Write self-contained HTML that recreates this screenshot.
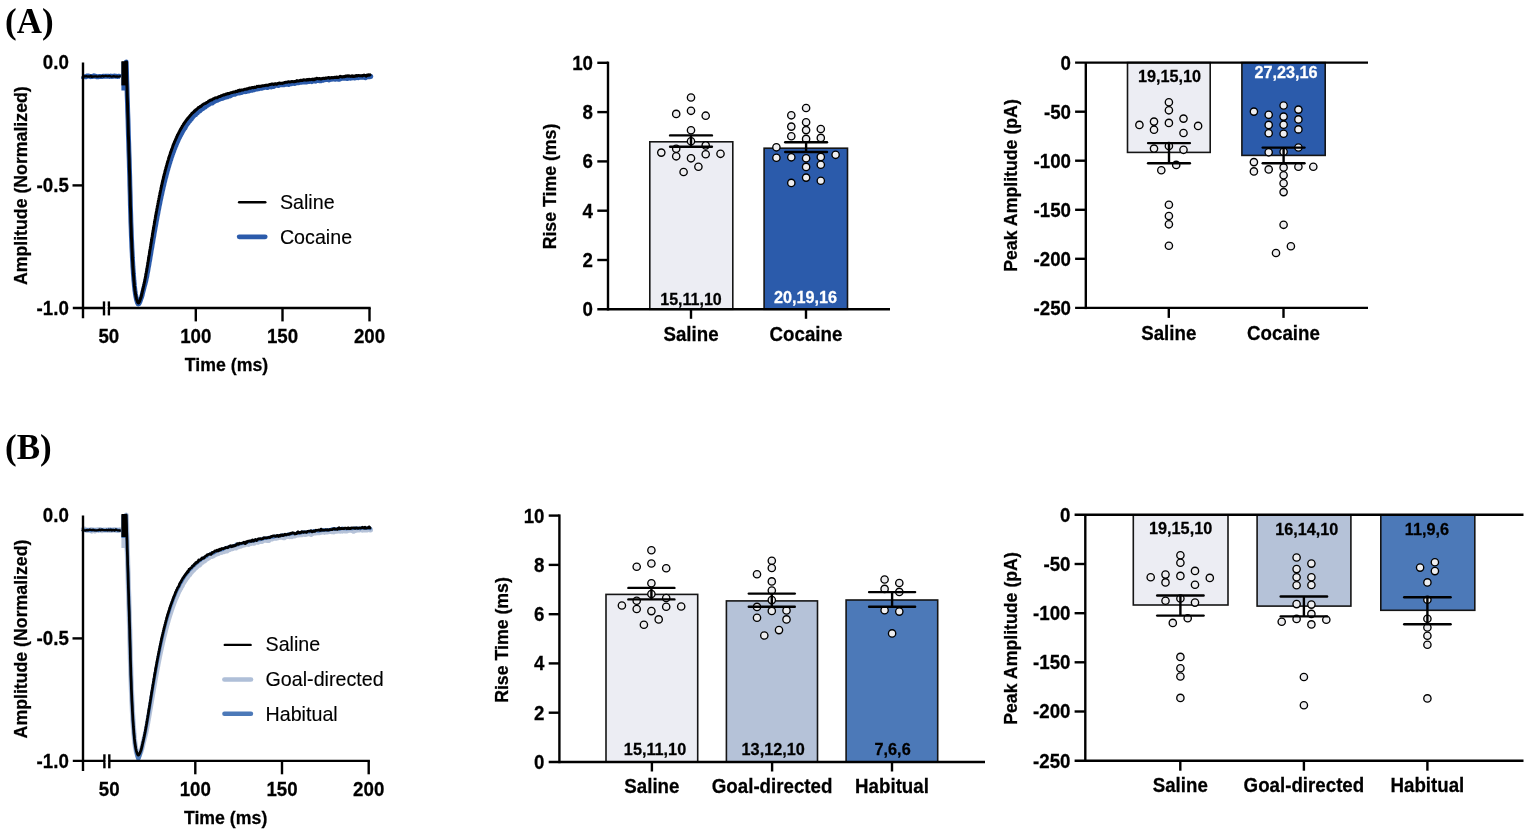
<!DOCTYPE html>
<html lang="en"><head><meta charset="utf-8"><title>Figure</title>
<style>html,body{margin:0;padding:0;background:#fff;}body{width:1535px;height:835px;overflow:hidden;}svg{display:block;}</style>
</head><body>
<svg width="1535" height="835" viewBox="0 0 1535 835" font-family='"Liberation Sans", Arial, Helvetica, sans-serif'>
<rect width="1535" height="835" fill="#fff"/>
<text transform="translate(5.0 32.8) scale(1 1)" font-size="35" font-weight="bold" text-anchor="start" fill="#000" style='font-family:"Liberation Serif", "Times New Roman", serif'>(A)</text>
<text transform="translate(5.0 459.0) scale(1 1)" font-size="35" font-weight="bold" text-anchor="start" fill="#000" style='font-family:"Liberation Serif", "Times New Roman", serif'>(B)</text>
<path d="M81.8 76.4 L82.8 76.7 L83.8 76.6 L84.8 76.6 L85.8 76.9 L86.8 76.0 L87.8 76.2 L88.8 76.0 L89.8 76.4 L90.8 76.7 L91.8 76.4 L92.8 76.5 L93.8 75.8 L94.8 76.4 L95.8 76.1 L96.8 76.9 L97.8 76.7 L98.8 76.7 L99.8 76.4 L100.8 76.6 L101.8 76.6 L102.8 76.3 L103.8 76.3 L104.8 76.4 L105.8 76.2 L106.8 76.2 L107.8 76.3 L108.8 76.2 L109.8 76.6 L110.8 75.9 L111.8 76.6 L112.8 76.2 L113.8 76.2 L114.8 76.0 L115.8 76.4 L116.8 76.3 L117.8 76.5 L118.8 76.2 L119.8 76.4 L120.8 76.9" fill="none" stroke="#2b5bab" stroke-width="4.9" stroke-linejoin="round" stroke-linecap="butt"/>
<rect x="121.4" y="62.0" width="5.6" height="28.5" fill="#2b5bab"/>
<path d="M126.2 62.0 L126.5 70.7 L126.7 79.2 L127.0 87.7 L127.2 95.9 L127.5 103.9 L127.7 111.8 L128.0 119.7 L128.2 127.5 L128.4 135.3 L128.7 143.2 L128.9 151.2 L129.2 159.3 L129.4 167.8 L129.7 176.4 L129.9 185.7 L130.2 195.8 L130.4 205.7 L130.7 214.3 L130.9 222.2 L131.2 229.5 L131.4 236.3 L131.7 242.3 L131.9 247.8 L132.2 253.1 L132.4 258.0 L132.7 262.6 L132.9 266.8 L133.2 270.6 L133.4 274.1 L133.7 277.3 L133.9 280.3 L134.2 283.2 L134.4 285.8 L134.7 288.2 L134.9 290.4 L135.2 292.2 L135.4 293.9 L135.7 295.4 L135.9 296.8 L136.2 298.1 L136.4 299.2 L136.7 300.2 L136.9 301.0 L137.2 301.8 L137.4 302.6 L137.7 303.2 L137.9 303.7 L138.2 304.0 L138.5 304.0 L138.8 303.8 L139.0 303.4 L139.3 302.9 L139.6 302.4 L139.9 301.7 L140.2 301.0 L140.5 300.2 L140.7 299.5 L141.0 298.7 L141.3 297.9 L141.6 297.0 L141.9 296.0 L142.2 295.0 L142.4 293.9 L142.7 292.7 L143.0 291.6 L143.3 290.4 L143.6 289.3 L143.9 288.2 L144.1 287.2 L144.4 286.1 L144.7 285.1 L145.0 284.1 L145.2 283.0 L145.5 282.0 L145.8 280.9 L146.0 279.9 L146.2 278.7 L146.5 277.5 L146.8 276.3 L147.0 274.9 L147.2 273.6 L147.5 272.2 L147.8 270.9 L148.0 269.5 L148.2 268.1 L148.5 266.6 L148.8 265.2 L149.0 263.8 L149.2 262.3 L149.5 260.9 L149.8 259.4 L150.0 257.9 L150.2 256.5 L150.5 255.0 L150.8 253.5 L151.0 252.0 L151.2 250.5 L151.5 249.1 L151.8 247.6 L152.0 246.1 L152.2 244.6 L152.5 243.2 L152.8 241.7 L153.0 240.2 L153.2 238.8 L153.5 237.3 L153.8 235.9 L154.0 234.4 L154.2 233.0 L154.5 231.5 L154.8 230.1 L155.0 228.7 L155.2 227.3 L155.5 225.9 L155.8 224.5 L156.0 223.1 L156.2 221.7 L156.5 220.3 L156.8 219.0 L157.0 217.6 L157.2 216.3 L157.5 214.9 L157.8 213.6 L158.0 212.3 L158.2 211.0 L158.5 209.7 L158.8 208.4 L159.0 207.1 L159.2 205.9 L159.5 204.6 L159.8 203.4 L160.0 202.1 L160.2 200.9 L160.5 199.7 L160.8 198.5 L161.0 197.3 L161.2 196.1 L161.5 195.0 L161.8 193.8 L162.0 192.7 L162.2 191.5 L162.5 190.4 L162.8 189.3 L163.0 188.2 L163.2 187.1 L163.5 186.1 L163.8 185.0 L164.0 184.0 L164.2 182.9 L164.5 181.9 L164.8 180.8 L165.0 179.8 L165.2 178.8 L165.5 177.8 L165.8 176.9 L166.0 175.9 L166.2 175.0 L166.5 174.0 L166.8 173.1 L167.0 172.1 L167.2 171.2 L167.5 170.3 L167.8 169.4 L168.0 168.5 L168.2 167.7 L168.5 166.8 L168.8 166.0 L169.0 165.2 L169.2 164.3 L169.5 163.4 L169.8 162.6 L170.0 161.8 L170.2 161.0 L170.5 160.2 L170.8 159.5 L171.0 158.6 L171.2 157.8 L171.5 157.1 L171.8 156.4 L172.0 155.8 L172.2 155.0 L172.5 154.2 L172.8 153.5 L173.0 152.9 L173.2 152.2 L173.5 151.6 L173.8 150.8 L174.0 150.2 L174.2 149.4 L174.5 148.7 L174.8 148.3 L175.0 147.6 L175.2 146.9 L175.5 146.3 L175.8 145.9 L176.0 145.3 L176.2 144.5 L176.5 143.9 L176.8 143.3 L177.0 142.7 L177.2 142.2 L177.5 141.7 L177.8 141.1 L178.0 140.6 L178.2 140.1 L178.5 139.4 L178.8 138.6 L179.0 138.2 L179.2 138.0 L179.5 137.5 L179.8 136.9 L180.0 136.4 L180.2 135.9 L180.5 135.5 L180.8 135.0 L181.0 134.4 L181.2 134.0 L181.5 133.8 L181.8 133.1 L182.0 132.7 L182.2 132.4 L182.5 131.7 L182.8 131.0 L183.0 130.7 L183.2 130.5 L183.5 130.0 L183.8 129.3 L184.0 129.1 L184.2 128.8 L184.5 128.2 L184.8 128.2 L185.0 128.0 L185.2 127.5 L185.5 126.8 L185.8 126.4 L186.0 125.8 L186.2 125.4 L186.5 125.2 L186.8 124.6 L187.0 124.2 L187.2 124.0 L187.5 123.9 L187.8 123.5 L188.0 123.2 L188.2 122.8 L188.5 122.2 L188.8 121.7 L189.0 121.5 L189.2 121.5 L189.5 121.2 L189.8 120.9 L190.0 120.4 L190.2 120.0 L190.5 119.7 L190.8 119.3 L191.0 119.3 L191.2 119.3 L191.5 118.7 L191.8 118.2 L192.0 118.0 L192.2 117.6 L192.5 117.4 L192.8 117.1 L193.0 116.7 L193.2 116.5 L193.5 116.2 L193.8 115.9 L194.0 115.5 L194.2 115.3 L194.5 115.2 L194.8 115.0 L195.0 114.9 L195.2 114.9 L195.5 114.8 L195.8 114.2 L196.0 114.0 L196.2 113.7 L196.5 113.6 L196.8 113.5 L197.0 112.9 L197.2 112.7 L197.5 112.8 L197.8 112.0 L198.0 111.5 L198.2 111.7 L198.5 111.3 L198.8 110.9 L199.0 110.9 L199.2 110.9 L199.5 111.0 L199.8 111.1 L200.0 110.8 L200.2 110.3 L200.5 110.2 L200.8 109.9 L200.8 109.6 L201.3 108.8 L201.8 108.5 L202.3 108.6 L202.8 108.7 L203.3 108.3 L203.8 107.8 L204.3 107.2 L204.8 107.0 L205.3 107.1 L205.8 106.4 L206.3 105.8 L206.8 105.4 L207.3 105.4 L207.8 105.3 L208.3 104.7 L208.8 104.5 L209.3 104.3 L209.8 103.8 L210.3 103.3 L210.8 102.8 L211.3 102.5 L211.8 102.5 L212.3 103.0 L212.8 102.3 L213.3 101.7 L213.8 101.9 L214.3 101.4 L214.8 101.1 L215.3 100.9 L215.8 100.8 L216.3 100.7 L216.8 100.3 L217.3 100.3 L217.8 100.0 L218.3 99.3 L218.8 99.1 L219.3 99.3 L219.8 99.2 L220.3 98.9 L220.8 98.6 L221.3 98.3 L221.8 98.5 L222.3 98.3 L222.8 98.3 L223.3 98.1 L223.8 97.4 L224.3 96.9 L224.8 97.1 L225.3 97.2 L225.8 97.0 L226.3 97.0 L226.8 96.9 L227.3 96.9 L227.8 96.3 L228.3 96.0 L228.8 96.1 L229.3 95.7 L229.8 95.6 L230.3 95.9 L230.8 95.6 L231.3 95.2 L231.8 95.0 L232.3 94.7 L232.8 94.5 L233.3 94.4 L233.8 94.3 L234.3 94.1 L234.8 94.0 L235.3 94.2 L235.8 93.8 L236.3 93.6 L236.8 93.3 L237.3 92.7 L237.8 92.9 L238.3 93.1 L238.8 93.1 L239.3 92.7 L239.8 92.4 L240.3 92.6 L240.8 92.7 L241.3 92.6 L241.8 92.3 L242.3 92.0 L242.8 91.8 L243.3 91.8 L243.8 91.8 L244.3 91.6 L244.8 91.2 L245.3 91.4 L245.8 91.7 L246.3 91.6 L246.8 91.2 L247.3 91.0 L247.8 91.0 L248.3 91.0 L248.8 91.0 L249.3 90.9 L249.8 90.3 L250.3 90.0 L250.8 89.9 L251.3 89.7 L251.8 90.0 L252.3 90.3 L252.8 89.7 L253.3 89.8 L253.8 89.9 L254.3 89.4 L254.8 89.3 L255.3 89.3 L255.8 89.0 L256.3 88.6 L256.8 88.7 L257.3 89.0 L257.8 88.4 L258.3 88.4 L258.8 88.8 L259.3 88.6 L259.8 88.4 L260.3 88.3 L260.8 88.1 L261.3 87.9 L261.8 88.2 L262.3 88.0 L262.8 87.7 L263.3 87.9 L263.8 87.6 L264.3 87.4 L264.8 87.2 L265.3 87.1 L265.8 87.2 L266.3 87.3 L266.8 87.1 L267.3 87.5 L267.8 87.5 L268.3 86.9 L268.8 86.8 L269.3 86.7 L269.8 86.9 L270.3 86.8 L270.8 86.7 L271.3 86.9 L271.8 86.4 L272.3 86.3 L272.8 86.3 L273.3 86.5 L273.8 86.5 L274.3 85.8 L274.8 85.4 L275.3 85.3 L275.8 85.4 L276.3 85.4 L276.8 85.2 L277.3 85.2 L277.8 85.3 L278.3 85.6 L278.8 85.3 L279.3 84.8 L279.8 84.9 L280.3 84.7 L280.8 84.5 L281.3 84.6 L281.8 84.8 L282.3 84.9 L282.8 84.6 L283.3 84.7 L283.8 84.8 L284.3 84.5 L284.8 84.5 L285.3 84.3 L285.8 84.3 L286.3 84.4 L286.8 84.2 L287.3 83.8 L287.8 84.1 L288.3 84.3 L288.8 84.5 L289.3 84.3 L289.8 83.8 L290.3 83.8 L290.8 83.6 L291.3 83.8 L291.8 83.5 L292.3 83.3 L292.8 83.4 L293.3 83.4 L293.8 83.4 L294.3 83.5 L294.8 83.5 L295.3 83.3 L295.8 83.0 L296.3 82.7 L296.8 82.6 L297.3 82.6 L297.8 82.8 L298.3 82.8 L298.8 82.4 L299.3 82.5 L299.8 82.5 L300.3 82.2 L300.8 82.3 L301.3 82.4 L301.8 82.0 L302.3 81.6 L302.8 82.0 L303.3 82.1 L303.8 81.9 L304.3 81.8 L304.8 82.1 L305.3 82.1 L305.8 81.9 L306.3 82.1 L306.8 81.8 L307.3 81.7 L307.8 81.7 L308.3 81.4 L308.8 81.2 L309.3 81.5 L309.8 81.5 L310.3 81.2 L310.8 81.0 L311.3 81.4 L311.8 81.7 L312.3 81.3 L312.8 81.0 L313.3 80.7 L313.8 80.8 L314.3 81.1 L314.8 80.7 L315.3 80.8 L315.8 81.2 L316.3 80.8 L316.8 80.5 L317.3 80.5 L317.8 80.6 L318.3 80.6 L318.8 80.2 L319.3 80.5 L319.8 80.8 L320.3 80.7 L320.8 80.8 L321.3 80.5 L321.8 80.3 L322.3 80.4 L322.8 80.4 L323.3 80.2 L323.8 79.9 L324.3 79.9 L324.8 79.8 L325.3 79.7 L325.8 79.4 L326.3 79.5 L326.8 79.6 L327.3 79.5 L327.8 79.6 L328.3 79.7 L328.8 80.0 L329.3 79.9 L329.8 79.3 L330.3 79.3 L330.8 79.4 L331.3 79.4 L331.8 79.3 L332.3 79.1 L332.8 79.1 L333.3 79.0 L333.8 78.8 L334.3 78.7 L334.8 79.0 L335.3 79.3 L335.8 79.2 L336.3 78.9 L336.8 79.0 L337.3 79.1 L337.8 79.2 L338.3 79.2 L338.8 78.9 L339.3 79.0 L339.8 79.2 L340.3 78.9 L340.8 78.6 L341.3 78.3 L341.8 78.2 L342.3 78.3 L342.8 78.3 L343.3 78.3 L343.8 78.3 L344.3 78.3 L344.8 78.4 L345.3 78.4 L345.8 78.2 L346.3 77.9 L346.8 78.2 L347.3 78.6 L347.8 78.3 L348.3 78.1 L348.8 77.9 L349.3 77.5 L349.8 77.7 L350.3 78.2 L350.8 78.0 L351.3 77.5 L351.8 78.0 L352.3 77.8 L352.8 77.5 L353.3 77.9 L353.8 77.7 L354.3 77.7 L354.8 78.1 L355.3 77.9 L355.8 77.3 L356.3 77.4 L356.8 77.3 L357.3 77.1 L357.8 77.5 L358.3 77.7 L358.8 77.1 L359.3 76.9 L359.8 77.3 L360.3 77.4 L360.8 77.1 L361.3 76.9 L361.8 77.2 L362.3 77.3 L362.8 77.3 L363.3 76.8 L363.8 77.1 L364.3 77.4 L364.8 77.3 L365.3 77.8 L365.8 77.4 L366.3 76.7 L366.8 76.8 L367.3 77.0 L367.8 76.7 L368.3 76.5 L368.8 76.9 L369.3 76.9 L369.8 76.4 L370.3 76.3 L370.8 76.4" fill="none" stroke="#2b5bab" stroke-width="4.9" stroke-linejoin="round" stroke-linecap="round"/>
<path d="M81.8 76.4 L82.8 76.8 L83.8 76.8 L84.8 76.2 L85.8 76.3 L86.8 76.2 L87.8 76.6 L88.8 76.4 L89.8 76.6 L90.8 75.8 L91.8 76.9 L92.8 76.4 L93.8 76.6 L94.8 76.4 L95.8 76.3 L96.8 76.5 L97.8 76.6 L98.8 76.3 L99.8 76.4 L100.8 76.6 L101.8 76.1 L102.8 75.9 L103.8 76.5 L104.8 76.2 L105.8 75.8 L106.8 76.2 L107.8 76.3 L108.8 76.0 L109.8 76.0 L110.8 76.4 L111.8 76.7 L112.8 76.3 L113.8 76.2 L114.8 76.5 L115.8 76.6 L116.8 76.3 L117.8 76.6 L118.8 76.7 L119.8 76.3 L120.8 76.2" fill="none" stroke="#000" stroke-width="2.3" stroke-linejoin="round" stroke-linecap="butt"/>
<rect x="121.4" y="61.2" width="6.6" height="24.2" fill="#000"/>
<path d="M126.2 62.0 L126.5 70.7 L126.7 79.2 L127.0 87.7 L127.2 95.9 L127.5 103.9 L127.7 111.8 L128.0 119.7 L128.2 127.5 L128.4 135.3 L128.7 143.2 L128.9 151.2 L129.2 159.3 L129.4 167.8 L129.7 176.4 L129.9 185.7 L130.2 195.8 L130.4 205.7 L130.7 214.3 L130.9 222.2 L131.2 229.5 L131.4 236.3 L131.7 242.3 L131.9 247.8 L132.2 253.0 L132.4 258.0 L132.7 262.6 L132.9 266.8 L133.2 270.6 L133.4 274.1 L133.7 277.3 L133.9 280.3 L134.2 283.1 L134.4 285.7 L134.7 288.1 L134.9 290.2 L135.2 292.0 L135.4 293.6 L135.7 295.0 L135.9 296.4 L136.2 297.6 L136.4 298.6 L136.7 299.5 L136.9 300.2 L137.2 301.0 L137.4 301.7 L137.7 302.3 L137.9 302.7 L138.2 303.0 L138.4 303.0 L138.7 302.8 L138.9 302.5 L139.2 302.1 L139.4 301.6 L139.7 301.0 L139.9 300.3 L140.2 299.7 L140.4 299.0 L140.7 298.3 L140.9 297.6 L141.2 296.7 L141.4 295.8 L141.7 294.8 L141.9 293.7 L142.2 292.6 L142.4 291.5 L142.7 290.4 L142.9 289.2 L143.2 288.1 L143.4 287.0 L143.7 285.8 L143.9 284.7 L144.2 283.5 L144.4 282.3 L144.7 281.0 L144.9 279.8 L145.2 278.5 L145.4 277.2 L145.7 275.8 L145.9 274.4 L146.2 273.0 L146.4 271.6 L146.7 270.2 L146.9 268.7 L147.2 267.2 L147.4 265.7 L147.7 264.2 L147.9 262.7 L148.2 261.2 L148.4 259.7 L148.7 258.1 L148.9 256.6 L149.2 255.0 L149.4 253.5 L149.7 251.9 L149.9 250.4 L150.2 248.8 L150.4 247.3 L150.7 245.7 L150.9 244.2 L151.2 242.6 L151.4 241.1 L151.7 239.6 L151.9 238.0 L152.2 236.5 L152.4 235.0 L152.7 233.4 L152.9 231.9 L153.2 230.4 L153.4 228.9 L153.7 227.4 L153.9 226.0 L154.2 224.5 L154.4 223.0 L154.7 221.6 L154.9 220.1 L155.2 218.7 L155.4 217.3 L155.7 215.9 L155.9 214.5 L156.2 213.1 L156.4 211.7 L156.7 210.3 L156.9 209.0 L157.2 207.6 L157.4 206.3 L157.7 205.0 L157.9 203.6 L158.2 202.3 L158.4 201.1 L158.7 199.8 L158.9 198.5 L159.2 197.3 L159.4 196.0 L159.7 194.8 L159.9 193.6 L160.2 192.4 L160.4 191.2 L160.7 190.0 L160.9 188.8 L161.2 187.7 L161.4 186.5 L161.7 185.4 L161.9 184.3 L162.2 183.2 L162.4 182.1 L162.7 181.0 L162.9 179.9 L163.2 178.9 L163.4 177.8 L163.7 176.8 L163.9 175.8 L164.2 174.7 L164.4 173.7 L164.7 172.7 L164.9 171.8 L165.2 170.8 L165.4 169.8 L165.7 168.9 L165.9 167.9 L166.2 167.1 L166.4 166.2 L166.7 165.2 L166.9 164.4 L167.2 163.5 L167.4 162.7 L167.7 161.8 L167.9 161.0 L168.2 160.1 L168.4 159.2 L168.7 158.4 L168.9 157.6 L169.2 156.8 L169.4 156.0 L169.7 155.2 L169.9 154.5 L170.2 153.7 L170.4 152.9 L170.7 152.2 L170.9 151.6 L171.2 150.9 L171.4 150.1 L171.7 149.3 L171.9 148.8 L172.2 148.2 L172.4 147.3 L172.7 146.5 L172.9 145.9 L173.2 145.2 L173.4 144.6 L173.7 144.0 L173.9 143.5 L174.2 142.9 L174.4 142.1 L174.7 141.4 L174.9 140.9 L175.2 140.4 L175.4 139.9 L175.7 139.3 L175.9 138.6 L176.2 138.2 L176.4 137.8 L176.7 137.1 L176.9 136.4 L177.2 135.9 L177.4 135.3 L177.7 134.8 L177.9 134.4 L178.2 133.9 L178.4 133.3 L178.7 132.9 L178.9 132.4 L179.2 131.8 L179.4 131.3 L179.7 130.9 L179.9 130.4 L180.2 129.9 L180.4 129.5 L180.7 129.1 L180.9 128.7 L181.2 128.2 L181.4 127.9 L181.7 127.4 L181.9 126.9 L182.2 126.5 L182.4 126.0 L182.7 125.6 L182.9 125.3 L183.2 124.9 L183.4 124.4 L183.7 124.1 L183.9 123.9 L184.2 123.4 L184.4 122.8 L184.7 122.5 L184.9 122.4 L185.2 121.8 L185.4 121.5 L185.7 121.3 L185.9 120.7 L186.2 120.4 L186.4 120.2 L186.7 119.9 L186.9 119.4 L187.2 119.3 L187.4 119.1 L187.7 118.3 L187.9 118.2 L188.2 118.0 L188.4 117.7 L188.7 117.4 L188.9 117.0 L189.2 116.8 L189.4 116.4 L189.7 116.2 L189.9 115.9 L190.2 115.4 L190.4 115.2 L190.7 115.1 L190.9 114.8 L191.2 114.4 L191.4 114.2 L191.7 113.8 L191.9 113.3 L192.2 113.3 L192.4 113.0 L192.7 112.8 L192.9 112.7 L193.2 112.6 L193.4 112.2 L193.7 111.8 L193.9 111.7 L194.2 111.2 L194.4 111.4 L194.7 111.4 L194.9 110.6 L195.2 110.6 L195.4 110.5 L195.7 109.9 L195.9 109.8 L196.2 110.0 L196.4 109.6 L196.7 109.2 L196.9 109.1 L197.2 108.8 L197.4 108.6 L197.7 108.6 L197.9 108.2 L198.2 107.7 L198.4 107.6 L198.7 107.5 L198.9 107.5 L199.2 107.5 L199.4 107.3 L199.7 107.1 L199.9 106.8 L200.0 106.6 L200.5 106.3 L201.0 106.4 L201.5 105.9 L202.0 105.2 L202.5 104.8 L203.0 104.5 L203.5 104.1 L204.0 103.9 L204.5 103.7 L205.0 103.6 L205.5 103.4 L206.0 102.9 L206.5 102.7 L207.0 102.4 L207.5 102.2 L208.0 101.8 L208.5 101.2 L209.0 101.0 L209.5 100.8 L210.0 100.4 L210.5 100.1 L211.0 99.9 L211.5 99.9 L212.0 99.9 L212.5 99.3 L213.0 98.9 L213.5 98.8 L214.0 98.7 L214.5 98.3 L215.0 98.0 L215.5 97.9 L216.0 97.8 L216.5 97.8 L217.0 97.9 L217.5 97.5 L218.0 97.2 L218.5 96.7 L219.0 96.6 L219.5 96.6 L220.0 96.4 L220.5 96.5 L221.0 95.8 L221.5 95.4 L222.0 95.5 L222.5 95.3 L223.0 95.1 L223.5 94.8 L224.0 94.9 L224.5 94.9 L225.0 94.7 L225.5 94.3 L226.0 94.0 L226.5 94.2 L227.0 94.1 L227.5 93.5 L228.0 93.5 L228.5 93.7 L229.0 93.6 L229.5 93.3 L230.0 93.1 L230.5 92.9 L231.0 92.7 L231.5 92.6 L232.0 92.5 L232.5 92.6 L233.0 92.2 L233.5 91.9 L234.0 91.9 L234.5 92.0 L235.0 92.0 L235.5 91.4 L236.0 91.3 L236.5 91.5 L237.0 91.6 L237.5 91.1 L238.0 90.5 L238.5 90.9 L239.0 90.6 L239.5 90.1 L240.0 90.3 L240.5 90.6 L241.0 90.2 L241.5 90.0 L242.0 90.0 L242.5 90.1 L243.0 90.0 L243.5 89.8 L244.0 89.5 L244.5 89.2 L245.0 89.2 L245.5 89.3 L246.0 89.3 L246.5 88.9 L247.0 88.8 L247.5 89.0 L248.0 88.7 L248.5 88.4 L249.0 88.3 L249.5 88.0 L250.0 87.9 L250.5 88.2 L251.0 87.9 L251.5 87.9 L252.0 87.7 L252.5 87.4 L253.0 87.4 L253.5 87.8 L254.0 87.5 L254.5 87.1 L255.0 87.5 L255.5 87.3 L256.0 87.3 L256.5 87.0 L257.0 86.3 L257.5 86.5 L258.0 86.6 L258.5 86.3 L259.0 86.2 L259.5 86.4 L260.0 86.6 L260.5 86.2 L261.0 86.1 L261.5 86.2 L262.0 85.9 L262.5 85.8 L263.0 85.7 L263.5 85.7 L264.0 85.8 L264.5 85.5 L265.0 85.5 L265.5 85.4 L266.0 85.2 L266.5 85.3 L267.0 85.4 L267.5 85.2 L268.0 85.1 L268.5 85.2 L269.0 84.8 L269.5 84.5 L270.0 84.6 L270.5 84.6 L271.0 84.3 L271.5 84.0 L272.0 84.0 L272.5 84.0 L273.0 84.2 L273.5 84.5 L274.0 84.4 L274.5 84.1 L275.0 83.8 L275.5 83.7 L276.0 83.9 L276.5 84.2 L277.0 84.1 L277.5 83.6 L278.0 83.4 L278.5 83.3 L279.0 83.1 L279.5 83.0 L280.0 83.1 L280.5 83.4 L281.0 83.3 L281.5 83.2 L282.0 83.4 L282.5 83.1 L283.0 83.0 L283.5 83.1 L284.0 82.6 L284.5 82.5 L285.0 82.5 L285.5 82.4 L286.0 82.2 L286.5 82.2 L287.0 82.3 L287.5 82.1 L288.0 81.9 L288.5 81.7 L289.0 81.7 L289.5 82.0 L290.0 82.0 L290.5 81.8 L291.0 81.8 L291.5 81.6 L292.0 81.4 L292.5 81.6 L293.0 81.7 L293.5 81.6 L294.0 81.8 L294.5 81.7 L295.0 81.4 L295.5 81.5 L296.0 81.3 L296.5 80.9 L297.0 80.6 L297.5 80.7 L298.0 81.1 L298.5 81.0 L299.0 80.8 L299.5 80.6 L300.0 80.7 L300.5 80.3 L301.0 80.2 L301.5 80.5 L302.0 80.2 L302.5 80.5 L303.0 80.4 L303.5 79.8 L304.0 79.8 L304.5 80.1 L305.0 80.1 L305.5 80.0 L306.0 80.2 L306.5 80.1 L307.0 79.7 L307.5 79.5 L308.0 80.0 L308.5 79.8 L309.0 79.3 L309.5 79.4 L310.0 79.7 L310.5 79.7 L311.0 79.6 L311.5 79.4 L312.0 79.3 L312.5 79.6 L313.0 79.1 L313.5 79.2 L314.0 79.8 L314.5 79.4 L315.0 78.9 L315.5 79.3 L316.0 79.0 L316.5 78.3 L317.0 78.3 L317.5 78.5 L318.0 78.6 L318.5 78.8 L319.0 78.9 L319.5 78.5 L320.0 78.5 L320.5 79.0 L321.0 79.1 L321.5 78.9 L322.0 78.6 L322.5 78.6 L323.0 78.3 L323.5 78.3 L324.0 78.4 L324.5 78.4 L325.0 78.4 L325.5 78.0 L326.0 77.9 L326.5 78.3 L327.0 78.0 L327.5 77.7 L328.0 77.7 L328.5 77.5 L329.0 77.7 L329.5 78.2 L330.0 78.1 L330.5 77.9 L331.0 77.7 L331.5 77.7 L332.0 77.5 L332.5 77.6 L333.0 77.8 L333.5 77.8 L334.0 77.5 L334.5 77.3 L335.0 77.3 L335.5 77.6 L336.0 77.6 L336.5 76.9 L337.0 76.9 L337.5 77.6 L338.0 77.6 L338.5 77.4 L339.0 77.2 L339.5 76.7 L340.0 76.3 L340.5 76.4 L341.0 76.7 L341.5 76.9 L342.0 77.0 L342.5 76.8 L343.0 76.9 L343.5 76.8 L344.0 76.5 L344.5 76.7 L345.0 76.6 L345.5 75.9 L346.0 75.9 L346.5 76.3 L347.0 76.0 L347.5 75.8 L348.0 76.3 L348.5 76.1 L349.0 75.8 L349.5 76.0 L350.0 76.1 L350.5 76.4 L351.0 76.5 L351.5 76.0 L352.0 75.7 L352.5 76.1 L353.0 76.5 L353.5 76.4 L354.0 76.1 L354.5 76.4 L355.0 76.3 L355.5 75.9 L356.0 75.6 L356.5 75.5 L357.0 76.1 L357.5 75.9 L358.0 75.5 L358.5 75.5 L359.0 75.5 L359.5 75.8 L360.0 75.8 L360.5 75.7 L361.0 75.8 L361.5 75.8 L362.0 75.9 L362.5 75.9 L363.0 75.5 L363.5 75.3 L364.0 75.1 L364.5 75.3 L365.0 75.4 L365.5 75.7 L366.0 76.1 L366.5 75.6 L367.0 75.1 L367.5 75.4 L368.0 75.1 L368.5 74.7 L369.0 75.2 L369.5 75.1 L370.0 74.8" fill="none" stroke="#000" stroke-width="3.0" stroke-linejoin="round" stroke-linecap="round"/>
<line x1="83.0" y1="62.5" x2="83.0" y2="318.2" stroke="#000" stroke-width="2.4" stroke-linecap="butt"/>
<line x1="72.8" y1="308.0" x2="370.7" y2="308.0" stroke="#000" stroke-width="2.4" stroke-linecap="butt"/>
<line x1="72.5" y1="185.4" x2="83.0" y2="185.4" stroke="#000" stroke-width="2.4" stroke-linecap="butt"/>
<line x1="195.8" y1="308.0" x2="195.8" y2="321.4" stroke="#000" stroke-width="2.4" stroke-linecap="butt"/>
<line x1="282.5" y1="308.0" x2="282.5" y2="321.4" stroke="#000" stroke-width="2.4" stroke-linecap="butt"/>
<line x1="369.5" y1="308.0" x2="369.5" y2="321.4" stroke="#000" stroke-width="2.4" stroke-linecap="butt"/>
<line x1="104.0" y1="301.4" x2="104.0" y2="315.4" stroke="#000" stroke-width="2.4" stroke-linecap="butt"/>
<line x1="108.9" y1="301.4" x2="108.9" y2="315.4" stroke="#000" stroke-width="2.4" stroke-linecap="butt"/>
<rect x="105.20" y="306.0" width="2.50" height="4" fill="#fff"/>
<text transform="translate(68.8 68.7) scale(0.985 1.035)" font-size="19" font-weight="bold" text-anchor="end" fill="#000" stroke="#000" stroke-width="0.25">0.0</text>
<text transform="translate(68.8 192.3) scale(0.985 1.035)" font-size="19" font-weight="bold" text-anchor="end" fill="#000" stroke="#000" stroke-width="0.25">-0.5</text>
<text transform="translate(68.8 315.4) scale(0.985 1.035)" font-size="19" font-weight="bold" text-anchor="end" fill="#000" stroke="#000" stroke-width="0.25">-1.0</text>
<text transform="translate(108.8 342.9) scale(0.985 1.035)" font-size="19" font-weight="bold" text-anchor="middle" fill="#000" stroke="#000" stroke-width="0.25">50</text>
<text transform="translate(195.8 342.9) scale(0.985 1.035)" font-size="19" font-weight="bold" text-anchor="middle" fill="#000" stroke="#000" stroke-width="0.25">100</text>
<text transform="translate(282.5 342.9) scale(0.985 1.035)" font-size="19" font-weight="bold" text-anchor="middle" fill="#000" stroke="#000" stroke-width="0.25">150</text>
<text transform="translate(369.5 342.9) scale(0.985 1.035)" font-size="19" font-weight="bold" text-anchor="middle" fill="#000" stroke="#000" stroke-width="0.25">200</text>
<text transform="translate(226.5 370.6) scale(0.985 1.035)" font-size="18" font-weight="bold" text-anchor="middle" fill="#000" stroke="#000" stroke-width="0.25">Time (ms)</text>
<text transform="translate(27.0 185.7) rotate(-90) scale(0.985 1.035)" font-size="18" font-weight="bold" text-anchor="middle" fill="#000" stroke="#000" stroke-width="0.25">Amplitude (Normalized)</text>
<line x1="239.2" y1="202.2" x2="265.2" y2="202.2" stroke="#000" stroke-width="2.6" stroke-linecap="round"/>
<text transform="translate(279.9 209.2) scale(1.0 1.035)" font-size="19.7" font-weight="normal" text-anchor="start" fill="#000" stroke="#000" stroke-width="0.12">Saline</text>
<line x1="239.2" y1="236.8" x2="265.2" y2="236.8" stroke="#2b5bab" stroke-width="4.8" stroke-linecap="round"/>
<text transform="translate(279.9 243.6) scale(1.0 1.035)" font-size="19.7" font-weight="normal" text-anchor="start" fill="#000" stroke="#000" stroke-width="0.12">Cocaine</text>
<path d="M81.8 530.3 L82.8 529.8 L83.8 529.6 L84.8 529.2 L85.8 530.0 L86.8 530.5 L87.8 530.1 L88.8 530.3 L89.8 530.4 L90.8 529.8 L91.8 530.9 L92.8 529.8 L93.8 530.2 L94.8 530.9 L95.8 530.1 L96.8 530.1 L97.8 529.9 L98.8 530.2 L99.8 529.5 L100.8 529.9 L101.8 530.6 L102.8 530.2 L103.8 530.0 L104.8 530.2 L105.8 530.2 L106.8 530.1 L107.8 530.3 L108.8 529.6 L109.8 530.3 L110.8 529.9 L111.8 530.3 L112.8 530.1 L113.8 529.8 L114.8 530.1 L115.8 529.8 L116.8 530.4 L117.8 530.1 L118.8 530.4 L119.8 529.8 L120.8 530.6" fill="none" stroke="#b5c2d8" stroke-width="5.2" stroke-linejoin="round" stroke-linecap="butt"/>
<rect x="121.4" y="516.0" width="4.6" height="32.0" fill="#b5c2d8"/>
<path d="M126.2 515.0 L126.5 523.7 L126.7 532.2 L127.0 540.7 L127.2 548.9 L127.5 556.9 L127.7 564.8 L128.0 572.7 L128.2 580.5 L128.4 588.3 L128.7 596.2 L128.9 604.2 L129.2 612.3 L129.4 620.8 L129.7 629.4 L129.9 638.7 L130.2 648.8 L130.4 658.7 L130.7 667.3 L130.9 675.2 L131.2 682.5 L131.4 689.3 L131.7 695.3 L131.9 700.8 L132.2 706.1 L132.4 711.0 L132.7 715.6 L132.9 719.8 L133.2 723.6 L133.4 727.1 L133.7 730.3 L133.9 733.3 L134.2 736.1 L134.4 738.8 L134.7 741.1 L134.9 743.2 L135.2 745.1 L135.4 746.7 L135.7 748.1 L135.9 749.5 L136.2 750.7 L136.4 751.8 L136.7 752.7 L136.9 753.5 L137.2 754.2 L137.4 755.0 L137.7 755.6 L137.9 756.0 L138.2 756.3 L138.5 756.3 L138.7 756.1 L139.0 755.8 L139.3 755.3 L139.5 754.8 L139.8 754.2 L140.1 753.5 L140.4 752.8 L140.6 752.1 L140.9 751.4 L141.2 750.7 L141.4 749.8 L141.7 748.9 L142.0 747.9 L142.3 746.8 L142.5 745.7 L142.8 744.5 L143.1 743.4 L143.3 742.3 L143.6 741.2 L143.9 740.2 L144.1 739.1 L144.4 738.1 L144.7 737.1 L144.9 736.1 L145.2 735.1 L145.4 734.1 L145.7 733.0 L145.9 731.9 L146.2 730.7 L146.4 729.5 L146.7 728.1 L146.9 726.8 L147.2 725.5 L147.4 724.1 L147.7 722.7 L147.9 721.3 L148.2 719.9 L148.4 718.5 L148.7 717.0 L148.9 715.6 L149.2 714.2 L149.4 712.7 L149.7 711.2 L149.9 709.8 L150.2 708.3 L150.4 706.8 L150.7 705.4 L150.9 703.9 L151.2 702.4 L151.4 701.0 L151.7 699.5 L151.9 698.0 L152.2 696.5 L152.4 695.1 L152.7 693.6 L152.9 692.2 L153.2 690.7 L153.4 689.3 L153.7 687.8 L153.9 686.4 L154.2 685.0 L154.4 683.5 L154.7 682.1 L154.9 680.7 L155.2 679.3 L155.4 677.9 L155.7 676.5 L155.9 675.2 L156.2 673.8 L156.4 672.4 L156.7 671.1 L156.9 669.7 L157.2 668.4 L157.4 667.1 L157.7 665.8 L157.9 664.5 L158.2 663.2 L158.4 661.9 L158.7 660.6 L158.9 659.4 L159.2 658.1 L159.4 656.9 L159.7 655.7 L159.9 654.4 L160.2 653.2 L160.4 652.0 L160.7 650.8 L160.9 649.7 L161.2 648.5 L161.4 647.4 L161.7 646.2 L161.9 645.1 L162.2 644.0 L162.4 642.9 L162.7 641.8 L162.9 640.7 L163.2 639.6 L163.4 638.5 L163.7 637.5 L163.9 636.5 L164.2 635.4 L164.4 634.4 L164.7 633.4 L164.9 632.4 L165.2 631.4 L165.4 630.4 L165.7 629.5 L165.9 628.5 L166.2 627.5 L166.4 626.6 L166.7 625.6 L166.9 624.7 L167.2 623.9 L167.4 623.0 L167.7 622.2 L167.9 621.3 L168.2 620.2 L168.4 619.3 L168.7 618.7 L168.9 617.9 L169.2 617.0 L169.4 616.1 L169.7 615.4 L169.9 614.7 L170.2 613.9 L170.4 613.1 L170.7 612.3 L170.9 611.6 L171.2 610.7 L171.4 609.9 L171.7 609.3 L171.9 608.5 L172.2 607.8 L172.4 607.2 L172.7 606.2 L172.9 605.6 L173.2 605.2 L173.4 604.4 L173.7 603.6 L173.9 603.0 L174.2 602.3 L174.4 601.6 L174.7 601.1 L174.9 600.4 L175.2 599.7 L175.4 599.1 L175.7 598.7 L175.9 598.3 L176.2 597.6 L176.4 596.9 L176.7 596.2 L176.9 595.7 L177.2 595.4 L177.4 594.6 L177.7 594.0 L177.9 593.4 L178.2 592.7 L178.4 592.4 L178.7 591.8 L178.9 591.1 L179.2 590.7 L179.4 590.5 L179.7 589.9 L179.9 589.5 L180.2 589.0 L180.4 588.6 L180.7 588.2 L180.9 587.5 L181.2 587.1 L181.4 586.7 L181.7 586.4 L181.9 586.2 L182.2 585.6 L182.4 584.8 L182.7 584.1 L182.9 583.6 L183.2 583.3 L183.4 583.0 L183.7 582.6 L183.9 582.2 L184.2 581.9 L184.4 581.3 L184.7 580.6 L184.9 580.6 L185.2 580.5 L185.4 579.9 L185.7 579.6 L185.9 579.2 L186.2 578.6 L186.4 578.0 L186.7 577.8 L186.9 577.8 L187.2 577.5 L187.4 577.2 L187.7 576.7 L187.9 576.3 L188.2 576.2 L188.4 575.8 L188.7 575.2 L188.9 574.9 L189.2 574.8 L189.4 574.6 L189.7 574.5 L189.9 574.0 L190.2 573.6 L190.4 573.2 L190.7 572.8 L190.9 572.6 L191.2 572.5 L191.4 572.3 L191.7 571.6 L191.9 571.4 L192.2 571.2 L192.4 570.8 L192.7 570.4 L192.9 570.0 L193.2 570.3 L193.4 570.3 L193.7 569.7 L193.9 569.1 L194.2 568.5 L194.4 568.4 L194.7 568.4 L194.9 568.3 L195.2 567.9 L195.4 567.6 L195.7 567.9 L195.9 567.3 L196.2 567.0 L196.4 566.7 L196.7 566.4 L196.9 566.5 L197.2 566.5 L197.4 566.1 L197.7 565.5 L197.9 565.7 L198.2 565.2 L198.4 564.7 L198.7 564.6 L198.9 564.2 L199.2 564.4 L199.4 564.5 L199.7 564.8 L199.9 564.7 L200.2 564.2 L200.4 563.6 L200.5 563.2 L201.0 562.9 L201.5 562.0 L202.0 562.0 L202.5 562.1 L203.0 561.0 L203.5 560.7 L204.0 560.9 L204.5 561.0 L205.0 560.3 L205.5 559.8 L206.0 559.6 L206.5 558.9 L207.0 558.7 L207.5 558.6 L208.0 557.9 L208.5 557.9 L209.0 557.6 L209.5 557.1 L210.0 556.9 L210.5 556.4 L211.0 556.2 L211.5 556.4 L212.0 556.0 L212.5 555.5 L213.0 555.9 L213.5 555.6 L214.0 554.9 L214.5 555.0 L215.0 554.7 L215.5 554.4 L216.0 554.2 L216.5 554.0 L217.0 554.0 L217.5 553.3 L218.0 553.5 L218.5 553.5 L219.0 552.8 L219.5 552.4 L220.0 552.2 L220.5 552.2 L221.0 552.2 L221.5 552.3 L222.0 551.7 L222.5 551.2 L223.0 551.6 L223.5 551.6 L224.0 551.2 L224.5 551.4 L225.0 551.2 L225.5 550.7 L226.0 550.5 L226.5 550.6 L227.0 550.8 L227.5 550.0 L228.0 549.7 L228.5 549.4 L229.0 549.4 L229.5 549.7 L230.0 549.2 L230.5 548.8 L231.0 548.3 L231.5 548.4 L232.0 548.7 L232.5 548.3 L233.0 548.3 L233.5 548.1 L234.0 547.6 L234.5 547.4 L235.0 547.1 L235.5 547.7 L236.0 547.9 L236.5 547.0 L237.0 547.1 L237.5 546.3 L238.0 545.9 L238.5 546.6 L239.0 546.2 L239.5 546.1 L240.0 545.7 L240.5 545.5 L241.0 546.1 L241.5 545.4 L242.0 544.7 L242.5 545.0 L243.0 545.2 L243.5 545.0 L244.0 544.9 L244.5 545.0 L245.0 544.5 L245.5 544.2 L246.0 544.1 L246.5 543.5 L247.0 543.1 L247.5 543.7 L248.0 544.2 L248.5 544.3 L249.0 543.8 L249.5 543.1 L250.0 543.5 L250.5 543.4 L251.0 543.3 L251.5 543.3 L252.0 542.9 L252.5 542.1 L253.0 541.9 L253.5 542.8 L254.0 543.2 L254.5 543.0 L255.0 542.5 L255.5 542.0 L256.0 541.8 L256.5 541.9 L257.0 542.0 L257.5 541.9 L258.0 542.2 L258.5 541.8 L259.0 541.4 L259.5 541.2 L260.0 541.2 L260.5 541.3 L261.0 540.9 L261.5 540.9 L262.0 541.3 L262.5 541.1 L263.0 540.5 L263.5 540.1 L264.0 540.2 L264.5 540.2 L265.0 539.9 L265.5 540.0 L266.0 540.2 L266.5 539.9 L267.0 539.8 L267.5 540.3 L268.0 539.7 L268.5 539.5 L269.0 540.3 L269.5 539.7 L270.0 539.3 L270.5 539.0 L271.0 538.8 L271.5 539.0 L272.0 538.9 L272.5 538.6 L273.0 538.3 L273.5 538.3 L274.0 538.2 L274.5 538.1 L275.0 538.1 L275.5 537.9 L276.0 537.8 L276.5 538.1 L277.0 537.5 L277.5 537.3 L278.0 537.6 L278.5 537.2 L279.0 537.0 L279.5 537.0 L280.0 537.0 L280.5 537.2 L281.0 537.0 L281.5 537.1 L282.0 537.1 L282.5 537.0 L283.0 537.4 L283.5 536.8 L284.0 536.7 L284.5 537.5 L285.0 537.0 L285.5 536.6 L286.0 536.6 L286.5 536.4 L287.0 536.3 L287.5 536.1 L288.0 536.3 L288.5 536.5 L289.0 536.3 L289.5 536.4 L290.0 536.6 L290.5 536.3 L291.0 535.8 L291.5 536.0 L292.0 536.5 L292.5 535.4 L293.0 534.7 L293.5 535.1 L294.0 535.5 L294.5 535.9 L295.0 535.5 L295.5 535.2 L296.0 535.4 L296.5 534.9 L297.0 534.8 L297.5 535.0 L298.0 534.9 L298.5 534.9 L299.0 534.5 L299.5 534.2 L300.0 534.4 L300.5 534.6 L301.0 534.5 L301.5 534.7 L302.0 534.6 L302.5 533.9 L303.0 533.9 L303.5 534.1 L304.0 534.1 L304.5 534.3 L305.0 534.4 L305.5 534.4 L306.0 534.3 L306.5 534.0 L307.0 534.0 L307.5 533.9 L308.0 533.7 L308.5 533.4 L309.0 533.3 L309.5 533.4 L310.0 533.4 L310.5 533.9 L311.0 534.4 L311.5 534.1 L312.0 533.5 L312.5 533.4 L313.0 533.4 L313.5 532.9 L314.0 532.8 L314.5 532.9 L315.0 532.7 L315.5 533.0 L316.0 533.0 L316.5 532.5 L317.0 532.7 L317.5 532.6 L318.0 532.1 L318.5 532.0 L319.0 532.4 L319.5 532.6 L320.0 532.5 L320.5 532.2 L321.0 531.9 L321.5 532.2 L322.0 532.0 L322.5 531.7 L323.0 531.6 L323.5 531.5 L324.0 531.8 L324.5 532.2 L325.0 531.4 L325.5 531.4 L326.0 531.9 L326.5 531.5 L327.0 531.9 L327.5 531.6 L328.0 531.3 L328.5 531.6 L329.0 531.5 L329.5 531.2 L330.0 531.2 L330.5 531.4 L331.0 530.9 L331.5 531.2 L332.0 531.6 L332.5 530.6 L333.0 530.3 L333.5 531.2 L334.0 531.8 L334.5 531.4 L335.0 530.5 L335.5 530.4 L336.0 531.0 L336.5 531.1 L337.0 530.7 L337.5 530.4 L338.0 530.7 L338.5 530.8 L339.0 530.7 L339.5 530.8 L340.0 531.1 L340.5 531.0 L341.0 530.7 L341.5 530.1 L342.0 530.3 L342.5 531.0 L343.0 530.7 L343.5 529.9 L344.0 529.7 L344.5 530.3 L345.0 530.9 L345.5 531.0 L346.0 530.7 L346.5 530.7 L347.0 530.8 L347.5 530.3 L348.0 529.7 L348.5 529.7 L349.0 529.8 L349.5 530.0 L350.0 530.1 L350.5 529.9 L351.0 529.9 L351.5 529.9 L352.0 530.4 L352.5 530.5 L353.0 530.6 L353.5 531.1 L354.0 530.1 L354.5 529.9 L355.0 530.4 L355.5 529.7 L356.0 529.7 L356.5 530.1 L357.0 530.0 L357.5 529.8 L358.0 529.6 L358.5 529.9 L359.0 529.9 L359.5 529.6 L360.0 529.6 L360.5 529.5 L361.0 529.6 L361.5 529.2 L362.0 529.5 L362.5 530.1 L363.0 529.8 L363.5 530.0 L364.0 529.6 L364.5 529.9 L365.0 529.9 L365.5 529.5 L366.0 529.8 L366.5 530.0 L367.0 529.9 L367.5 529.2 L368.0 529.3 L368.5 529.0 L369.0 528.9 L369.5 529.4 L370.0 529.8 L370.5 529.8" fill="none" stroke="#b5c2d8" stroke-width="5.2" stroke-linejoin="round" stroke-linecap="round"/>
<path d="M81.8 529.7 L82.8 529.8 L83.8 530.2 L84.8 529.9 L85.8 530.3 L86.8 530.3 L87.8 529.7 L88.8 530.4 L89.8 529.9 L90.8 530.7 L91.8 530.3 L92.8 529.9 L93.8 530.2 L94.8 530.2 L95.8 530.2 L96.8 530.5 L97.8 530.3 L98.8 530.6 L99.8 530.3 L100.8 530.0 L101.8 529.6 L102.8 529.6 L103.8 530.2 L104.8 530.3 L105.8 530.5 L106.8 529.9 L107.8 530.1 L108.8 529.9 L109.8 530.0 L110.8 529.4 L111.8 530.3 L112.8 529.9 L113.8 530.1 L114.8 530.2 L115.8 530.2 L116.8 529.7 L117.8 530.6 L118.8 530.3 L119.8 530.3 L120.8 529.9" fill="none" stroke="#4c79b8" stroke-width="3.2" stroke-linejoin="round" stroke-linecap="butt"/>
<rect x="121.4" y="515.0" width="5.0" height="23.0" fill="#4c79b8"/>
<path d="M126.2 515.0 L126.5 523.7 L126.7 532.2 L127.0 540.7 L127.2 548.9 L127.5 556.9 L127.7 564.8 L128.0 572.7 L128.2 580.5 L128.4 588.3 L128.7 596.2 L128.9 604.2 L129.2 612.3 L129.4 620.8 L129.7 629.4 L129.9 638.7 L130.2 648.8 L130.4 658.7 L130.7 667.3 L130.9 675.2 L131.2 682.5 L131.4 689.3 L131.7 695.3 L131.9 700.8 L132.2 706.1 L132.4 711.0 L132.7 715.6 L132.9 719.8 L133.2 723.7 L133.4 727.1 L133.7 730.4 L133.9 733.5 L134.2 736.4 L134.4 739.1 L134.7 741.6 L134.9 743.8 L135.2 745.8 L135.4 747.6 L135.7 749.3 L135.9 750.9 L136.2 752.3 L136.4 753.7 L136.7 754.9 L136.9 755.9 L137.2 757.0 L137.4 757.9 L137.7 758.7 L137.9 759.3 L138.2 759.6 L138.5 759.6 L138.7 759.3 L139.0 758.9 L139.2 758.2 L139.5 757.5 L139.7 756.6 L140.0 755.7 L140.3 754.7 L140.5 753.7 L140.8 752.7 L141.0 751.7 L141.3 750.7 L141.6 749.5 L141.8 748.4 L142.1 747.2 L142.3 745.9 L142.6 744.7 L142.8 743.5 L143.1 742.3 L143.4 741.2 L143.6 740.1 L143.9 738.9 L144.1 737.8 L144.4 736.6 L144.6 735.5 L144.9 734.3 L145.1 733.1 L145.4 731.8 L145.6 730.5 L145.9 729.2 L146.1 727.9 L146.4 726.5 L146.6 725.1 L146.9 723.6 L147.1 722.2 L147.4 720.7 L147.6 719.3 L147.9 717.8 L148.1 716.3 L148.4 714.8 L148.6 713.3 L148.9 711.8 L149.1 710.2 L149.4 708.7 L149.6 707.2 L149.9 705.6 L150.1 704.1 L150.4 702.6 L150.6 701.0 L150.9 699.5 L151.1 698.0 L151.4 696.4 L151.6 694.9 L151.9 693.4 L152.1 691.8 L152.4 690.3 L152.6 688.8 L152.9 687.3 L153.1 685.8 L153.4 684.3 L153.6 682.8 L153.9 681.4 L154.1 679.9 L154.4 678.4 L154.6 677.0 L154.9 675.5 L155.1 674.1 L155.4 672.7 L155.6 671.2 L155.9 669.8 L156.1 668.4 L156.4 667.1 L156.6 665.7 L156.9 664.3 L157.1 663.0 L157.4 661.6 L157.6 660.3 L157.9 659.0 L158.1 657.7 L158.4 656.4 L158.6 655.1 L158.9 653.8 L159.1 652.5 L159.4 651.3 L159.6 650.1 L159.9 648.8 L160.1 647.6 L160.4 646.4 L160.6 645.2 L160.9 644.0 L161.1 642.9 L161.4 641.7 L161.6 640.6 L161.9 639.5 L162.1 638.4 L162.4 637.2 L162.6 636.1 L162.9 635.1 L163.1 634.0 L163.4 632.9 L163.6 631.9 L163.9 630.9 L164.1 629.8 L164.4 628.7 L164.6 627.8 L164.9 626.8 L165.1 625.8 L165.4 624.8 L165.6 623.9 L165.9 622.9 L166.1 622.0 L166.4 621.1 L166.6 620.2 L166.9 619.3 L167.1 618.4 L167.4 617.4 L167.6 616.6 L167.9 615.7 L168.1 614.9 L168.4 614.0 L168.6 613.2 L168.9 612.5 L169.1 611.6 L169.4 610.8 L169.6 610.1 L169.9 609.2 L170.1 608.3 L170.4 607.6 L170.6 606.9 L170.9 606.2 L171.1 605.4 L171.4 604.7 L171.6 604.1 L171.9 603.5 L172.1 602.7 L172.4 601.8 L172.6 601.3 L172.9 600.7 L173.1 599.8 L173.4 599.2 L173.6 598.6 L173.9 598.0 L174.1 597.4 L174.4 596.7 L174.6 596.0 L174.9 595.5 L175.1 595.0 L175.4 594.4 L175.6 593.6 L175.9 592.9 L176.1 592.5 L176.4 592.0 L176.6 591.2 L176.9 590.6 L177.1 590.2 L177.4 589.8 L177.6 589.2 L177.9 588.7 L178.1 588.3 L178.4 587.7 L178.6 587.1 L178.9 586.8 L179.1 586.5 L179.4 585.9 L179.6 585.3 L179.9 584.8 L180.1 584.3 L180.4 583.8 L180.6 583.2 L180.9 582.8 L181.1 582.4 L181.4 582.3 L181.6 581.8 L181.9 581.2 L182.1 581.0 L182.4 580.4 L182.6 580.0 L182.9 579.4 L183.1 578.9 L183.4 578.8 L183.6 578.1 L183.9 577.5 L184.1 577.5 L184.4 577.2 L184.6 576.6 L184.9 576.2 L185.1 575.9 L185.4 575.7 L185.6 575.4 L185.9 575.0 L186.1 574.5 L186.4 574.2 L186.6 574.1 L186.9 573.8 L187.1 573.4 L187.4 573.0 L187.6 572.4 L187.9 572.1 L188.1 572.0 L188.4 571.8 L188.6 571.3 L188.9 570.7 L189.1 570.6 L189.4 570.4 L189.6 570.1 L189.9 569.8 L190.1 569.6 L190.4 569.4 L190.6 569.2 L190.9 569.0 L191.1 568.8 L191.4 568.5 L191.6 568.0 L191.9 567.6 L192.1 567.5 L192.4 567.2 L192.6 566.9 L192.9 566.9 L193.1 566.4 L193.4 565.8 L193.6 565.8 L193.9 565.8 L194.1 565.5 L194.4 565.1 L194.6 565.0 L194.9 565.1 L195.1 564.6 L195.4 564.2 L195.6 564.0 L195.9 563.8 L196.1 563.5 L196.4 563.2 L196.6 563.2 L196.9 563.2 L197.1 562.8 L197.4 562.6 L197.6 562.0 L197.9 561.8 L198.1 562.0 L198.4 561.6 L198.6 561.5 L198.9 561.2 L199.1 561.1 L199.4 561.0 L199.6 560.5 L199.9 560.3 L200.1 560.3 L200.2 560.5 L200.7 560.0 L201.2 559.3 L201.7 559.2 L202.2 559.0 L202.7 558.6 L203.2 558.5 L203.7 557.8 L204.2 557.4 L204.7 557.3 L205.2 557.3 L205.7 556.9 L206.2 556.6 L206.7 556.7 L207.2 556.2 L207.7 555.4 L208.2 555.0 L208.7 554.6 L209.2 554.5 L209.7 554.3 L210.2 553.9 L210.7 553.9 L211.2 553.4 L211.7 552.9 L212.2 553.5 L212.7 553.6 L213.2 553.1 L213.7 552.8 L214.2 552.8 L214.7 552.6 L215.2 552.1 L215.7 551.6 L216.2 551.3 L216.7 551.2 L217.2 550.9 L217.7 550.7 L218.2 550.6 L218.7 550.5 L219.2 550.5 L219.7 550.1 L220.2 549.8 L220.7 550.1 L221.2 550.0 L221.7 549.7 L222.2 549.7 L222.7 549.6 L223.2 549.3 L223.7 548.7 L224.2 548.3 L224.7 548.3 L225.2 548.0 L225.7 547.8 L226.2 547.7 L226.7 547.3 L227.2 547.4 L227.7 547.6 L228.2 547.2 L228.7 546.9 L229.2 546.8 L229.7 546.8 L230.2 546.6 L230.7 546.6 L231.2 546.4 L231.7 546.4 L232.2 546.4 L232.7 546.2 L233.2 545.9 L233.7 545.6 L234.2 545.6 L234.7 545.5 L235.2 545.3 L235.7 544.7 L236.2 544.1 L236.7 544.5 L237.2 544.9 L237.7 544.9 L238.2 544.8 L238.7 544.5 L239.2 544.2 L239.7 543.8 L240.2 543.8 L240.7 543.8 L241.2 543.6 L241.7 543.7 L242.2 543.5 L242.7 543.5 L243.2 543.2 L243.7 542.9 L244.2 542.7 L244.7 542.5 L245.2 542.9 L245.7 542.7 L246.2 542.5 L246.7 542.6 L247.2 542.4 L247.7 542.3 L248.2 541.9 L248.7 541.7 L249.2 542.0 L249.7 541.7 L250.2 541.3 L250.7 541.2 L251.2 541.1 L251.7 541.0 L252.2 541.1 L252.7 541.1 L253.2 540.4 L253.7 540.7 L254.2 541.0 L254.7 540.7 L255.2 540.5 L255.7 540.2 L256.2 540.0 L256.7 540.1 L257.2 540.2 L257.7 540.1 L258.2 539.9 L258.7 539.5 L259.2 539.3 L259.7 539.5 L260.2 539.7 L260.7 539.3 L261.2 538.9 L261.7 539.1 L262.2 539.2 L262.7 539.0 L263.2 538.5 L263.7 538.2 L264.2 538.3 L264.7 538.3 L265.2 538.0 L265.7 538.1 L266.2 538.3 L266.7 538.1 L267.2 537.7 L267.7 537.6 L268.2 537.9 L268.7 537.5 L269.2 537.3 L269.7 537.6 L270.2 537.3 L270.7 537.2 L271.2 537.2 L271.7 537.2 L272.2 537.2 L272.7 537.0 L273.2 537.1 L273.7 537.2 L274.2 536.9 L274.7 536.5 L275.2 536.1 L275.7 536.3 L276.2 536.5 L276.7 536.3 L277.2 536.2 L277.7 535.9 L278.2 535.7 L278.7 535.6 L279.2 535.6 L279.7 535.6 L280.2 535.3 L280.7 535.4 L281.2 535.7 L281.7 535.4 L282.2 534.9 L282.7 535.2 L283.2 535.2 L283.7 535.2 L284.2 535.2 L284.7 534.9 L285.2 534.8 L285.7 535.0 L286.2 535.0 L286.7 534.7 L287.2 534.6 L287.7 534.2 L288.2 533.9 L288.7 534.4 L289.2 534.6 L289.7 534.3 L290.2 534.2 L290.7 534.0 L291.2 533.9 L291.7 533.7 L292.2 533.7 L292.7 533.7 L293.2 533.5 L293.7 533.6 L294.2 533.5 L294.7 533.5 L295.2 533.6 L295.7 533.5 L296.2 533.6 L296.7 533.2 L297.2 532.6 L297.7 532.9 L298.2 533.3 L298.7 533.5 L299.2 533.4 L299.7 533.1 L300.2 532.7 L300.7 532.7 L301.2 532.9 L301.7 532.5 L302.2 532.2 L302.7 532.3 L303.2 532.4 L303.7 531.9 L304.2 531.8 L304.7 532.3 L305.2 532.2 L305.7 532.1 L306.2 532.2 L306.7 531.9 L307.2 531.8 L307.7 531.9 L308.2 531.6 L308.7 531.6 L309.2 532.0 L309.7 531.6 L310.2 531.0 L310.7 531.0 L311.2 531.5 L311.7 531.7 L312.2 531.3 L312.7 531.2 L313.2 531.0 L313.7 530.7 L314.2 530.8 L314.7 531.2 L315.2 530.7 L315.7 530.5 L316.2 530.6 L316.7 530.8 L317.2 530.9 L317.7 531.0 L318.2 531.2 L318.7 531.1 L319.2 531.1 L319.7 530.6 L320.2 530.2 L320.7 530.6 L321.2 530.7 L321.7 530.4 L322.2 530.0 L322.7 529.6 L323.2 530.0 L323.7 530.4 L324.2 530.1 L324.7 530.0 L325.2 529.7 L325.7 529.7 L326.2 530.2 L326.7 530.4 L327.2 530.1 L327.7 529.8 L328.2 529.5 L328.7 529.7 L329.2 530.2 L329.7 529.8 L330.2 529.5 L330.7 529.6 L331.2 529.4 L331.7 528.9 L332.2 528.9 L332.7 529.4 L333.2 529.1 L333.7 528.8 L334.2 528.5 L334.7 528.8 L335.2 529.4 L335.7 529.2 L336.2 529.0 L336.7 528.8 L337.2 528.9 L337.7 528.9 L338.2 528.8 L338.7 528.9 L339.2 528.9 L339.7 529.2 L340.2 528.9 L340.7 528.6 L341.2 528.7 L341.7 528.5 L342.2 528.1 L342.7 528.4 L343.2 528.7 L343.7 528.4 L344.2 528.6 L344.7 528.6 L345.2 528.5 L345.7 528.6 L346.2 528.7 L346.7 528.9 L347.2 528.6 L347.7 528.6 L348.2 528.7 L348.7 528.5 L349.2 528.5 L349.7 528.6 L350.2 528.4 L350.7 528.3 L351.2 528.7 L351.7 528.6 L352.2 528.7 L352.7 528.6 L353.2 528.3 L353.7 528.3 L354.2 528.1 L354.7 528.0 L355.2 528.0 L355.7 528.2 L356.2 528.1 L356.7 528.3 L357.2 528.6 L357.7 528.2 L358.2 528.1 L358.7 528.4 L359.2 528.2 L359.7 528.6 L360.2 528.8 L360.7 528.4 L361.2 528.2 L361.7 527.7 L362.2 527.8 L362.7 528.1 L363.2 528.0 L363.7 528.1 L364.2 528.2 L364.7 528.5 L365.2 528.5 L365.7 528.4 L366.2 528.2 L366.7 528.0 L367.2 528.2 L367.7 527.8 L368.2 528.0 L368.7 528.1 L369.2 527.6 L369.7 528.0 L370.2 528.5" fill="none" stroke="#4c79b8" stroke-width="3.2" stroke-linejoin="round" stroke-linecap="round"/>
<path d="M81.8 529.9 L82.8 530.3 L83.8 530.4 L84.8 530.4 L85.8 530.6 L86.8 530.0 L87.8 530.3 L88.8 530.0 L89.8 529.7 L90.8 529.9 L91.8 530.1 L92.8 529.8 L93.8 530.0 L94.8 530.4 L95.8 530.3 L96.8 530.3 L97.8 530.2 L98.8 530.0 L99.8 529.5 L100.8 530.4 L101.8 529.6 L102.8 530.2 L103.8 530.1 L104.8 530.1 L105.8 530.2 L106.8 530.0 L107.8 530.4 L108.8 529.7 L109.8 530.3 L110.8 529.6 L111.8 530.5 L112.8 529.9 L113.8 530.2 L114.8 530.6 L115.8 529.5 L116.8 530.0 L117.8 530.3 L118.8 530.4 L119.8 530.5 L120.8 530.3" fill="none" stroke="#000" stroke-width="2.3" stroke-linejoin="round" stroke-linecap="butt"/>
<rect x="121.4" y="514.0" width="5.4" height="23.0" fill="#000"/>
<path d="M126.2 515.0 L126.5 523.7 L126.7 532.2 L127.0 540.7 L127.2 548.9 L127.5 556.9 L127.7 564.8 L128.0 572.7 L128.2 580.5 L128.4 588.3 L128.7 596.2 L128.9 604.2 L129.2 612.3 L129.4 620.8 L129.7 629.4 L129.9 638.7 L130.2 648.8 L130.4 658.7 L130.7 667.3 L130.9 675.2 L131.2 682.5 L131.4 689.3 L131.7 695.3 L131.9 700.8 L132.2 706.0 L132.4 711.0 L132.7 715.5 L132.9 719.8 L133.2 723.6 L133.4 727.0 L133.7 730.2 L133.9 733.3 L134.2 736.1 L134.4 738.7 L134.7 741.0 L134.9 743.1 L135.2 744.8 L135.4 746.4 L135.7 747.8 L135.9 749.0 L136.2 750.2 L136.4 751.1 L136.7 752.0 L136.9 752.7 L137.2 753.3 L137.4 754.0 L137.7 754.5 L137.9 755.0 L138.2 755.2 L138.4 755.2 L138.7 755.0 L138.9 754.7 L139.2 754.4 L139.4 753.9 L139.7 753.4 L139.9 752.8 L140.2 752.2 L140.4 751.6 L140.7 751.0 L140.9 750.3 L141.2 749.5 L141.4 748.6 L141.7 747.7 L141.9 746.6 L142.2 745.6 L142.4 744.4 L142.7 743.3 L142.9 742.2 L143.2 741.1 L143.4 740.0 L143.7 738.8 L143.9 737.6 L144.2 736.5 L144.4 735.3 L144.7 734.0 L144.9 732.8 L145.2 731.5 L145.4 730.2 L145.7 728.8 L145.9 727.4 L146.2 726.0 L146.4 724.6 L146.7 723.2 L146.9 721.7 L147.2 720.2 L147.4 718.7 L147.7 717.2 L147.9 715.7 L148.2 714.2 L148.4 712.7 L148.7 711.1 L148.9 709.6 L149.2 708.0 L149.4 706.5 L149.7 704.9 L149.9 703.4 L150.2 701.8 L150.4 700.3 L150.7 698.7 L150.9 697.2 L151.2 695.6 L151.4 694.1 L151.7 692.6 L151.9 691.0 L152.2 689.5 L152.4 688.0 L152.7 686.4 L152.9 684.9 L153.2 683.4 L153.4 681.9 L153.7 680.4 L153.9 679.0 L154.2 677.5 L154.4 676.0 L154.7 674.6 L154.9 673.1 L155.2 671.7 L155.4 670.3 L155.7 668.9 L155.9 667.5 L156.2 666.1 L156.4 664.7 L156.7 663.3 L156.9 662.0 L157.2 660.6 L157.4 659.3 L157.7 658.0 L157.9 656.6 L158.2 655.3 L158.4 654.1 L158.7 652.8 L158.9 651.5 L159.2 650.3 L159.4 649.0 L159.7 647.8 L159.9 646.6 L160.2 645.4 L160.4 644.2 L160.7 643.0 L160.9 641.8 L161.2 640.7 L161.4 639.5 L161.7 638.4 L161.9 637.3 L162.2 636.2 L162.4 635.1 L162.7 634.0 L162.9 632.9 L163.2 631.8 L163.4 630.9 L163.7 629.8 L163.9 628.7 L164.2 627.8 L164.4 626.8 L164.7 625.8 L164.9 624.8 L165.2 623.8 L165.4 622.8 L165.7 621.8 L165.9 620.9 L166.2 620.1 L166.4 619.1 L166.7 618.2 L166.9 617.3 L167.2 616.5 L167.4 615.7 L167.7 614.7 L167.9 613.8 L168.2 613.1 L168.4 612.3 L168.7 611.7 L168.9 610.8 L169.2 609.9 L169.4 609.1 L169.7 608.3 L169.9 607.5 L170.2 606.8 L170.4 606.0 L170.7 605.2 L170.9 604.5 L171.2 603.9 L171.4 603.2 L171.7 602.5 L171.9 601.9 L172.2 601.1 L172.4 600.5 L172.7 599.7 L172.9 599.0 L173.2 598.6 L173.4 597.8 L173.7 597.0 L173.9 596.5 L174.2 596.0 L174.4 595.4 L174.7 594.7 L174.9 594.1 L175.2 593.5 L175.4 592.7 L175.7 592.1 L175.9 591.7 L176.2 591.0 L176.4 590.5 L176.7 590.0 L176.9 589.5 L177.2 588.9 L177.4 588.1 L177.7 587.6 L177.9 587.4 L178.2 587.2 L178.4 586.7 L178.7 586.3 L178.9 585.7 L179.2 585.2 L179.4 584.3 L179.7 583.8 L179.9 583.5 L180.2 582.9 L180.4 582.4 L180.7 582.2 L180.9 581.9 L181.2 581.1 L181.4 580.7 L181.7 580.5 L181.9 579.8 L182.2 579.4 L182.4 579.0 L182.7 578.3 L182.9 577.8 L183.2 577.8 L183.4 577.7 L183.7 577.3 L183.9 576.7 L184.2 576.2 L184.4 576.0 L184.7 575.8 L184.9 575.3 L185.2 574.7 L185.4 574.7 L185.7 574.5 L185.9 573.9 L186.2 573.4 L186.4 573.0 L186.7 573.1 L186.9 573.1 L187.2 572.4 L187.4 571.7 L187.7 571.8 L187.9 572.0 L188.2 571.6 L188.4 571.1 L188.7 570.2 L188.9 569.5 L189.2 569.7 L189.4 569.6 L189.7 569.3 L189.9 568.9 L190.2 568.5 L190.4 568.4 L190.7 568.2 L190.9 567.8 L191.2 567.7 L191.4 567.5 L191.7 567.4 L191.9 567.4 L192.2 566.6 L192.4 566.0 L192.7 565.9 L192.9 565.9 L193.2 565.5 L193.4 565.3 L193.7 565.5 L193.9 565.2 L194.2 564.6 L194.4 564.1 L194.7 563.9 L194.9 563.8 L195.2 564.1 L195.4 563.4 L195.7 562.7 L195.9 562.9 L196.2 562.7 L196.4 562.9 L196.7 562.8 L196.9 562.3 L197.2 561.8 L197.4 562.0 L197.7 562.1 L197.9 561.7 L198.2 561.5 L198.4 560.5 L198.7 559.9 L198.9 559.9 L199.2 560.3 L199.4 560.3 L199.7 560.1 L199.9 560.1 L200.0 560.1 L200.5 559.9 L201.0 559.5 L201.5 558.5 L202.0 557.9 L202.5 558.5 L203.0 558.0 L203.5 557.6 L204.0 558.1 L204.5 557.2 L205.0 556.6 L205.5 556.1 L206.0 555.9 L206.5 555.8 L207.0 554.9 L207.5 554.8 L208.0 554.7 L208.5 554.4 L209.0 554.3 L209.5 554.2 L210.0 553.7 L210.5 553.8 L211.0 554.4 L211.5 553.9 L212.0 552.8 L212.5 552.3 L213.0 552.4 L213.5 552.4 L214.0 552.0 L214.5 551.3 L215.0 550.8 L215.5 550.8 L216.0 551.2 L216.5 551.2 L217.0 550.1 L217.5 550.1 L218.0 550.9 L218.5 550.9 L219.0 549.7 L219.5 549.2 L220.0 550.0 L220.5 549.9 L221.0 549.5 L221.5 548.6 L222.0 548.4 L222.5 548.6 L223.0 548.7 L223.5 548.8 L224.0 548.4 L224.5 548.3 L225.0 548.0 L225.5 547.4 L226.0 547.5 L226.5 547.7 L227.0 547.5 L227.5 547.5 L228.0 547.6 L228.5 546.8 L229.0 546.6 L229.5 546.4 L230.0 546.0 L230.5 545.7 L231.0 546.2 L231.5 546.7 L232.0 545.8 L232.5 545.7 L233.0 546.2 L233.5 545.7 L234.0 545.4 L234.5 546.0 L235.0 545.8 L235.5 545.1 L236.0 545.2 L236.5 544.7 L237.0 543.9 L237.5 543.6 L238.0 543.8 L238.5 544.3 L239.0 544.0 L239.5 543.2 L240.0 543.4 L240.5 543.5 L241.0 543.5 L241.5 543.4 L242.0 543.1 L242.5 543.0 L243.0 542.9 L243.5 542.5 L244.0 542.1 L244.5 542.7 L245.0 543.7 L245.5 543.5 L246.0 542.0 L246.5 541.6 L247.0 542.3 L247.5 541.7 L248.0 541.1 L248.5 541.3 L249.0 541.1 L249.5 540.9 L250.0 541.3 L250.5 541.3 L251.0 540.8 L251.5 541.3 L252.0 541.0 L252.5 539.9 L253.0 540.2 L253.5 541.2 L254.0 540.9 L254.5 540.4 L255.0 539.8 L255.5 539.4 L256.0 540.0 L256.5 540.5 L257.0 540.2 L257.5 539.6 L258.0 539.0 L258.5 538.8 L259.0 538.7 L259.5 539.0 L260.0 539.0 L260.5 538.6 L261.0 538.9 L261.5 539.1 L262.0 538.8 L262.5 538.7 L263.0 538.6 L263.5 537.8 L264.0 537.7 L264.5 538.0 L265.0 537.8 L265.5 537.9 L266.0 537.8 L266.5 537.9 L267.0 537.9 L267.5 537.6 L268.0 537.6 L268.5 537.4 L269.0 537.4 L269.5 537.6 L270.0 537.5 L270.5 537.0 L271.0 536.5 L271.5 536.4 L272.0 536.6 L272.5 536.1 L273.0 535.8 L273.5 535.9 L274.0 535.9 L274.5 535.8 L275.0 536.2 L275.5 536.4 L276.0 536.4 L276.5 535.9 L277.0 535.3 L277.5 535.5 L278.0 536.0 L278.5 536.5 L279.0 535.8 L279.5 535.4 L280.0 536.1 L280.5 535.6 L281.0 534.8 L281.5 535.4 L282.0 535.6 L282.5 534.9 L283.0 535.0 L283.5 535.5 L284.0 535.1 L284.5 534.5 L285.0 534.2 L285.5 534.8 L286.0 534.9 L286.5 534.7 L287.0 534.4 L287.5 534.5 L288.0 534.5 L288.5 534.2 L289.0 534.3 L289.5 533.7 L290.0 534.0 L290.5 533.8 L291.0 533.2 L291.5 533.5 L292.0 533.2 L292.5 532.6 L293.0 532.9 L293.5 533.2 L294.0 533.1 L294.5 533.3 L295.0 534.0 L295.5 533.6 L296.0 533.6 L296.5 533.7 L297.0 533.0 L297.5 532.1 L298.0 531.6 L298.5 532.4 L299.0 532.9 L299.5 532.5 L300.0 532.4 L300.5 532.8 L301.0 532.5 L301.5 531.8 L302.0 531.6 L302.5 531.9 L303.0 532.2 L303.5 532.4 L304.0 532.0 L304.5 531.8 L305.0 531.9 L305.5 531.8 L306.0 532.2 L306.5 532.4 L307.0 532.0 L307.5 531.4 L308.0 531.3 L308.5 531.2 L309.0 531.2 L309.5 531.3 L310.0 531.2 L310.5 530.9 L311.0 530.7 L311.5 530.9 L312.0 531.9 L312.5 531.9 L313.0 531.4 L313.5 531.3 L314.0 531.0 L314.5 531.4 L315.0 531.3 L315.5 530.5 L316.0 530.1 L316.5 530.4 L317.0 530.4 L317.5 530.1 L318.0 530.1 L318.5 529.9 L319.0 530.1 L319.5 530.0 L320.0 530.5 L320.5 530.2 L321.0 529.1 L321.5 529.8 L322.0 530.3 L322.5 530.1 L323.0 530.0 L323.5 530.1 L324.0 530.0 L324.5 530.1 L325.0 530.1 L325.5 529.9 L326.0 529.7 L326.5 529.9 L327.0 529.9 L327.5 529.7 L328.0 530.2 L328.5 530.1 L329.0 529.9 L329.5 529.7 L330.0 529.4 L330.5 529.6 L331.0 529.5 L331.5 529.5 L332.0 529.7 L332.5 529.5 L333.0 528.9 L333.5 529.0 L334.0 528.7 L334.5 528.6 L335.0 529.3 L335.5 529.2 L336.0 529.0 L336.5 529.1 L337.0 529.3 L337.5 529.3 L338.0 529.0 L338.5 527.9 L339.0 527.7 L339.5 528.8 L340.0 528.9 L340.5 528.4 L341.0 528.7 L341.5 528.6 L342.0 528.3 L342.5 528.7 L343.0 528.6 L343.5 528.4 L344.0 528.6 L344.5 528.2 L345.0 528.0 L345.5 528.2 L346.0 528.2 L346.5 528.5 L347.0 528.7 L347.5 528.2 L348.0 527.8 L348.5 527.9 L349.0 528.6 L349.5 528.6 L350.0 528.4 L350.5 528.6 L351.0 528.2 L351.5 527.8 L352.0 528.1 L352.5 527.9 L353.0 527.9 L353.5 528.0 L354.0 528.1 L354.5 528.3 L355.0 528.0 L355.5 528.4 L356.0 528.1 L356.5 527.8 L357.0 528.0 L357.5 528.1 L358.0 528.4 L358.5 528.3 L359.0 528.1 L359.5 527.9 L360.0 528.0 L360.5 528.1 L361.0 527.9 L361.5 528.0 L362.0 527.6 L362.5 527.2 L363.0 527.7 L363.5 527.9 L364.0 528.2 L364.5 527.5 L365.0 527.2 L365.5 528.2 L366.0 528.2 L366.5 528.1 L367.0 528.0 L367.5 527.8 L368.0 528.0 L368.5 527.7 L369.0 526.8 L369.5 527.3 L370.0 527.9" fill="none" stroke="#000" stroke-width="2.7" stroke-linejoin="round" stroke-linecap="round"/>
<line x1="83.0" y1="515.5" x2="83.0" y2="771.1" stroke="#000" stroke-width="2.4" stroke-linecap="butt"/>
<line x1="72.8" y1="760.9" x2="369.9" y2="760.9" stroke="#000" stroke-width="2.4" stroke-linecap="butt"/>
<line x1="72.5" y1="638.4" x2="83.0" y2="638.4" stroke="#000" stroke-width="2.4" stroke-linecap="butt"/>
<line x1="195.3" y1="760.9" x2="195.3" y2="774.3" stroke="#000" stroke-width="2.4" stroke-linecap="butt"/>
<line x1="282.0" y1="760.9" x2="282.0" y2="774.3" stroke="#000" stroke-width="2.4" stroke-linecap="butt"/>
<line x1="368.7" y1="760.9" x2="368.7" y2="774.3" stroke="#000" stroke-width="2.4" stroke-linecap="butt"/>
<line x1="104.4" y1="754.3" x2="104.4" y2="768.3" stroke="#000" stroke-width="2.4" stroke-linecap="butt"/>
<line x1="109.3" y1="754.3" x2="109.3" y2="768.3" stroke="#000" stroke-width="2.4" stroke-linecap="butt"/>
<rect x="105.60" y="758.9" width="2.50" height="4" fill="#fff"/>
<text transform="translate(68.8 521.7) scale(0.985 1.035)" font-size="19" font-weight="bold" text-anchor="end" fill="#000" stroke="#000" stroke-width="0.25">0.0</text>
<text transform="translate(68.8 645.3) scale(0.985 1.035)" font-size="19" font-weight="bold" text-anchor="end" fill="#000" stroke="#000" stroke-width="0.25">-0.5</text>
<text transform="translate(68.8 768.3) scale(0.985 1.035)" font-size="19" font-weight="bold" text-anchor="end" fill="#000" stroke="#000" stroke-width="0.25">-1.0</text>
<text transform="translate(109.2 795.8) scale(0.985 1.035)" font-size="19" font-weight="bold" text-anchor="middle" fill="#000" stroke="#000" stroke-width="0.25">50</text>
<text transform="translate(195.3 795.8) scale(0.985 1.035)" font-size="19" font-weight="bold" text-anchor="middle" fill="#000" stroke="#000" stroke-width="0.25">100</text>
<text transform="translate(282.0 795.8) scale(0.985 1.035)" font-size="19" font-weight="bold" text-anchor="middle" fill="#000" stroke="#000" stroke-width="0.25">150</text>
<text transform="translate(368.7 795.8) scale(0.985 1.035)" font-size="19" font-weight="bold" text-anchor="middle" fill="#000" stroke="#000" stroke-width="0.25">200</text>
<text transform="translate(225.6 823.5) scale(0.985 1.035)" font-size="18" font-weight="bold" text-anchor="middle" fill="#000" stroke="#000" stroke-width="0.25">Time (ms)</text>
<text transform="translate(27.0 639.0) rotate(-90) scale(0.985 1.035)" font-size="18" font-weight="bold" text-anchor="middle" fill="#000" stroke="#000" stroke-width="0.25">Amplitude (Normalized)</text>
<line x1="224.8" y1="644.9" x2="250.6" y2="644.9" stroke="#000" stroke-width="2.4" stroke-linecap="round"/>
<text transform="translate(265.5 651.3) scale(1.0 1.035)" font-size="19.7" font-weight="normal" text-anchor="start" fill="#000" stroke="#000" stroke-width="0.12">Saline</text>
<line x1="224.4" y1="679.5" x2="251.0" y2="679.5" stroke="#afbfd8" stroke-width="4.6" stroke-linecap="round"/>
<text transform="translate(265.5 686.1) scale(1.0 1.035)" font-size="19.7" font-weight="normal" text-anchor="start" fill="#000" stroke="#000" stroke-width="0.12">Goal-directed</text>
<line x1="224.4" y1="713.8" x2="251.0" y2="713.8" stroke="#4c79b8" stroke-width="4.4" stroke-linecap="round"/>
<text transform="translate(265.5 721.0) scale(1.0 1.035)" font-size="19.7" font-weight="normal" text-anchor="start" fill="#000" stroke="#000" stroke-width="0.12">Habitual</text>
<rect x="649.8" y="141.8" width="83.0" height="167.5" fill="#ecedf3" stroke="#151515" stroke-width="1.6"/>
<rect x="764.1" y="148.2" width="83.4" height="161.1" fill="#2b5bab" stroke="#151515" stroke-width="1.6"/>
<text transform="translate(691.0 304.6) scale(0.985 1.035)" font-size="16.3" font-weight="bold" text-anchor="middle" fill="#000" stroke="#000" stroke-width="0.25">15,11,10</text>
<text transform="translate(805.5 302.8) scale(0.985 1.035)" font-size="16.5" font-weight="bold" text-anchor="middle" fill="#fff" stroke="#fff" stroke-width="0.25">20,19,16</text>
<g fill="#eeeef0" stroke="#000" stroke-width="1.35">
<circle cx="691.0" cy="97.5" r="3.65"/>
<circle cx="676.2" cy="113.9" r="3.65"/>
<circle cx="691.0" cy="110.8" r="3.65"/>
<circle cx="705.7" cy="115.7" r="3.65"/>
<circle cx="691.0" cy="130.3" r="3.65"/>
<circle cx="691.0" cy="141.3" r="3.65"/>
<circle cx="676.2" cy="148.7" r="3.65"/>
<circle cx="705.7" cy="145.4" r="3.65"/>
<circle cx="661.3" cy="152.6" r="3.65"/>
<circle cx="676.2" cy="156.3" r="3.65"/>
<circle cx="705.7" cy="154.2" r="3.65"/>
<circle cx="720.5" cy="153.8" r="3.65"/>
<circle cx="691.0" cy="158.3" r="3.65"/>
<circle cx="698.4" cy="166.7" r="3.65"/>
<circle cx="683.6" cy="172.0" r="3.65"/>
<circle cx="806.1" cy="108.0" r="3.65"/>
<circle cx="791.3" cy="115.3" r="3.65"/>
<circle cx="806.1" cy="122.3" r="3.65"/>
<circle cx="791.3" cy="126.6" r="3.65"/>
<circle cx="806.1" cy="130.1" r="3.65"/>
<circle cx="820.8" cy="129.0" r="3.65"/>
<circle cx="791.3" cy="136.2" r="3.65"/>
<circle cx="806.1" cy="138.9" r="3.65"/>
<circle cx="820.8" cy="137.9" r="3.65"/>
<circle cx="776.4" cy="147.3" r="3.65"/>
<circle cx="776.4" cy="157.7" r="3.65"/>
<circle cx="791.3" cy="157.3" r="3.65"/>
<circle cx="806.1" cy="158.3" r="3.65"/>
<circle cx="820.8" cy="156.9" r="3.65"/>
<circle cx="835.6" cy="154.8" r="3.65"/>
<circle cx="806.1" cy="166.9" r="3.65"/>
<circle cx="820.8" cy="164.7" r="3.65"/>
<circle cx="806.1" cy="177.6" r="3.65"/>
<circle cx="791.3" cy="182.9" r="3.65"/>
<circle cx="820.8" cy="180.7" r="3.65"/>
</g>
<line x1="670.1" y1="135.4" x2="711.9" y2="135.4" stroke="#000" stroke-width="2.4" stroke-linecap="round"/>
<line x1="670.1" y1="146.7" x2="711.9" y2="146.7" stroke="#000" stroke-width="2.4" stroke-linecap="round"/>
<line x1="691.0" y1="135.4" x2="691.0" y2="146.7" stroke="#000" stroke-width="2.4" stroke-linecap="butt"/>
<line x1="785.2" y1="142.2" x2="827.0" y2="142.2" stroke="#000" stroke-width="2.4" stroke-linecap="round"/>
<line x1="785.2" y1="152.0" x2="827.0" y2="152.0" stroke="#000" stroke-width="2.4" stroke-linecap="round"/>
<line x1="806.1" y1="142.2" x2="806.1" y2="152.0" stroke="#000" stroke-width="2.4" stroke-linecap="butt"/>
<line x1="608.0" y1="61.6" x2="608.0" y2="310.5" stroke="#000" stroke-width="2.4" stroke-linecap="butt"/>
<line x1="597.3" y1="309.3" x2="890.0" y2="309.3" stroke="#000" stroke-width="2.4" stroke-linecap="butt"/>
<text transform="translate(593.0 316.2) scale(0.985 1.035)" font-size="19" font-weight="bold" text-anchor="end" fill="#000" stroke="#000" stroke-width="0.25">0</text>
<line x1="597.3" y1="260.0" x2="608.0" y2="260.0" stroke="#000" stroke-width="2.4" stroke-linecap="butt"/>
<text transform="translate(593.0 266.9) scale(0.985 1.035)" font-size="19" font-weight="bold" text-anchor="end" fill="#000" stroke="#000" stroke-width="0.25">2</text>
<line x1="597.3" y1="210.7" x2="608.0" y2="210.7" stroke="#000" stroke-width="2.4" stroke-linecap="butt"/>
<text transform="translate(593.0 217.6) scale(0.985 1.035)" font-size="19" font-weight="bold" text-anchor="end" fill="#000" stroke="#000" stroke-width="0.25">4</text>
<line x1="597.3" y1="161.4" x2="608.0" y2="161.4" stroke="#000" stroke-width="2.4" stroke-linecap="butt"/>
<text transform="translate(593.0 168.3) scale(0.985 1.035)" font-size="19" font-weight="bold" text-anchor="end" fill="#000" stroke="#000" stroke-width="0.25">6</text>
<line x1="597.3" y1="112.1" x2="608.0" y2="112.1" stroke="#000" stroke-width="2.4" stroke-linecap="butt"/>
<text transform="translate(593.0 119.0) scale(0.985 1.035)" font-size="19" font-weight="bold" text-anchor="end" fill="#000" stroke="#000" stroke-width="0.25">8</text>
<line x1="597.3" y1="62.8" x2="608.0" y2="62.8" stroke="#000" stroke-width="2.4" stroke-linecap="butt"/>
<text transform="translate(593.0 69.7) scale(0.985 1.035)" font-size="19" font-weight="bold" text-anchor="end" fill="#000" stroke="#000" stroke-width="0.25">10</text>
<line x1="691.0" y1="309.3" x2="691.0" y2="318.8" stroke="#000" stroke-width="2.4" stroke-linecap="butt"/>
<text transform="translate(691.0 340.7) scale(0.985 1.035)" font-size="19" font-weight="bold" text-anchor="middle" fill="#000" stroke="#000" stroke-width="0.25">Saline</text>
<line x1="806.0" y1="309.3" x2="806.0" y2="318.8" stroke="#000" stroke-width="2.4" stroke-linecap="butt"/>
<text transform="translate(806.0 340.7) scale(0.985 1.035)" font-size="19" font-weight="bold" text-anchor="middle" fill="#000" stroke="#000" stroke-width="0.25">Cocaine</text>
<text transform="translate(555.7 186.5) rotate(-90) scale(0.985 1.035)" font-size="18" font-weight="bold" text-anchor="middle" fill="#000" stroke="#000" stroke-width="0.25">Rise Time (ms)</text>
<rect x="1127.5" y="62.6" width="82.7" height="89.8" fill="#ecedf3" stroke="#151515" stroke-width="1.6"/>
<rect x="1241.9" y="62.6" width="83.3" height="92.8" fill="#2b5bab" stroke="#151515" stroke-width="1.6"/>
<g fill="#eeeef0" stroke="#000" stroke-width="1.35">
<circle cx="1168.9" cy="102.3" r="3.65"/>
<circle cx="1168.9" cy="110.3" r="3.65"/>
<circle cx="1139.4" cy="124.9" r="3.65"/>
<circle cx="1154.0" cy="121.6" r="3.65"/>
<circle cx="1154.0" cy="129.7" r="3.65"/>
<circle cx="1168.9" cy="122.9" r="3.65"/>
<circle cx="1183.5" cy="118.6" r="3.65"/>
<circle cx="1198.1" cy="125.9" r="3.65"/>
<circle cx="1183.5" cy="133.0" r="3.65"/>
<circle cx="1168.9" cy="146.0" r="3.65"/>
<circle cx="1154.0" cy="148.6" r="3.65"/>
<circle cx="1183.5" cy="149.8" r="3.65"/>
<circle cx="1176.2" cy="164.9" r="3.65"/>
<circle cx="1161.3" cy="170.2" r="3.65"/>
<circle cx="1168.9" cy="204.7" r="3.65"/>
<circle cx="1168.9" cy="216.0" r="3.65"/>
<circle cx="1168.9" cy="224.3" r="3.65"/>
<circle cx="1168.9" cy="245.7" r="3.65"/>
<circle cx="1283.6" cy="105.5" r="3.65"/>
<circle cx="1253.9" cy="111.6" r="3.65"/>
<circle cx="1298.4" cy="109.6" r="3.65"/>
<circle cx="1268.7" cy="114.8" r="3.65"/>
<circle cx="1283.6" cy="116.6" r="3.65"/>
<circle cx="1298.4" cy="119.4" r="3.65"/>
<circle cx="1268.7" cy="124.9" r="3.65"/>
<circle cx="1283.6" cy="124.7" r="3.65"/>
<circle cx="1298.4" cy="129.4" r="3.65"/>
<circle cx="1268.7" cy="133.2" r="3.65"/>
<circle cx="1283.6" cy="133.7" r="3.65"/>
<circle cx="1298.4" cy="147.5" r="3.65"/>
<circle cx="1268.7" cy="152.3" r="3.65"/>
<circle cx="1283.6" cy="151.8" r="3.65"/>
<circle cx="1253.9" cy="162.1" r="3.65"/>
<circle cx="1253.9" cy="171.4" r="3.65"/>
<circle cx="1268.7" cy="169.4" r="3.65"/>
<circle cx="1283.6" cy="167.4" r="3.65"/>
<circle cx="1298.4" cy="166.7" r="3.65"/>
<circle cx="1313.3" cy="166.7" r="3.65"/>
<circle cx="1283.6" cy="175.2" r="3.65"/>
<circle cx="1283.6" cy="183.3" r="3.65"/>
<circle cx="1283.6" cy="192.1" r="3.65"/>
<circle cx="1283.6" cy="224.8" r="3.65"/>
<circle cx="1290.9" cy="246.2" r="3.65"/>
<circle cx="1276.0" cy="253.0" r="3.65"/>
</g>
<line x1="1148.1" y1="143.1" x2="1189.9" y2="143.1" stroke="#000" stroke-width="2.4" stroke-linecap="round"/>
<line x1="1148.1" y1="163.3" x2="1189.9" y2="163.3" stroke="#000" stroke-width="2.4" stroke-linecap="round"/>
<line x1="1169.0" y1="143.1" x2="1169.0" y2="163.3" stroke="#000" stroke-width="2.4" stroke-linecap="butt"/>
<line x1="1262.7" y1="147.6" x2="1304.5" y2="147.6" stroke="#000" stroke-width="2.4" stroke-linecap="round"/>
<line x1="1262.7" y1="163.3" x2="1304.5" y2="163.3" stroke="#000" stroke-width="2.4" stroke-linecap="round"/>
<line x1="1283.6" y1="147.6" x2="1283.6" y2="163.3" stroke="#000" stroke-width="2.4" stroke-linecap="butt"/>
<text transform="translate(1169.5 81.8) scale(0.985 1.035)" font-size="16.5" font-weight="bold" text-anchor="middle" fill="#000" stroke="#000" stroke-width="0.25">19,15,10</text>
<text transform="translate(1286.0 78.2) scale(0.985 1.035)" font-size="16.5" font-weight="bold" text-anchor="middle" fill="#fff" stroke="#fff" stroke-width="0.25">27,23,16</text>
<line x1="1085.8" y1="62.6" x2="1085.8" y2="309.1" stroke="#000" stroke-width="2.4" stroke-linecap="butt"/>
<line x1="1075.1" y1="62.6" x2="1368.0" y2="62.6" stroke="#000" stroke-width="2.4" stroke-linecap="butt"/>
<line x1="1075.1" y1="307.9" x2="1368.0" y2="307.9" stroke="#000" stroke-width="2.4" stroke-linecap="butt"/>
<text transform="translate(1071.0 69.5) scale(0.985 1.035)" font-size="19" font-weight="bold" text-anchor="end" fill="#000" stroke="#000" stroke-width="0.25">0</text>
<line x1="1075.1" y1="111.7" x2="1085.8" y2="111.7" stroke="#000" stroke-width="2.4" stroke-linecap="butt"/>
<text transform="translate(1071.0 118.6) scale(0.985 1.035)" font-size="19" font-weight="bold" text-anchor="end" fill="#000" stroke="#000" stroke-width="0.25">-50</text>
<line x1="1075.1" y1="160.7" x2="1085.8" y2="160.7" stroke="#000" stroke-width="2.4" stroke-linecap="butt"/>
<text transform="translate(1071.0 167.6) scale(0.985 1.035)" font-size="19" font-weight="bold" text-anchor="end" fill="#000" stroke="#000" stroke-width="0.25">-100</text>
<line x1="1075.1" y1="209.8" x2="1085.8" y2="209.8" stroke="#000" stroke-width="2.4" stroke-linecap="butt"/>
<text transform="translate(1071.0 216.7) scale(0.985 1.035)" font-size="19" font-weight="bold" text-anchor="end" fill="#000" stroke="#000" stroke-width="0.25">-150</text>
<line x1="1075.1" y1="258.8" x2="1085.8" y2="258.8" stroke="#000" stroke-width="2.4" stroke-linecap="butt"/>
<text transform="translate(1071.0 265.7) scale(0.985 1.035)" font-size="19" font-weight="bold" text-anchor="end" fill="#000" stroke="#000" stroke-width="0.25">-200</text>
<text transform="translate(1071.0 314.8) scale(0.985 1.035)" font-size="19" font-weight="bold" text-anchor="end" fill="#000" stroke="#000" stroke-width="0.25">-250</text>
<line x1="1168.8" y1="307.9" x2="1168.8" y2="317.9" stroke="#000" stroke-width="2.4" stroke-linecap="butt"/>
<text transform="translate(1168.8 339.6) scale(0.985 1.035)" font-size="19" font-weight="bold" text-anchor="middle" fill="#000" stroke="#000" stroke-width="0.25">Saline</text>
<line x1="1283.5" y1="307.9" x2="1283.5" y2="317.9" stroke="#000" stroke-width="2.4" stroke-linecap="butt"/>
<text transform="translate(1283.5 339.6) scale(0.985 1.035)" font-size="19" font-weight="bold" text-anchor="middle" fill="#000" stroke="#000" stroke-width="0.25">Cocaine</text>
<text transform="translate(1016.7 185.5) rotate(-90) scale(0.985 1.035)" font-size="18" font-weight="bold" text-anchor="middle" fill="#000" stroke="#000" stroke-width="0.25">Peak Amplitude (pA)</text>
<rect x="606.0" y="594.4" width="91.7" height="167.6" fill="#ecedf3" stroke="#151515" stroke-width="1.6"/>
<rect x="726.4" y="600.9" width="91.1" height="161.1" fill="#b5c2d8" stroke="#151515" stroke-width="1.6"/>
<rect x="846.1" y="600.0" width="91.6" height="162.0" fill="#4c79b8" stroke="#151515" stroke-width="1.6"/>
<text transform="translate(655.0 754.7) scale(0.985 1.035)" font-size="16.5" font-weight="bold" text-anchor="middle" fill="#000" stroke="#000" stroke-width="0.25">15,11,10</text>
<text transform="translate(773.2 754.7) scale(0.985 1.035)" font-size="16.5" font-weight="bold" text-anchor="middle" fill="#000" stroke="#000" stroke-width="0.25">13,12,10</text>
<text transform="translate(892.6 754.7) scale(0.985 1.035)" font-size="16.5" font-weight="bold" text-anchor="middle" fill="#000" stroke="#000" stroke-width="0.25">7,6,6</text>
<g fill="#eeeef0" stroke="#000" stroke-width="1.35">
<circle cx="651.4" cy="550.2" r="3.65"/>
<circle cx="636.7" cy="566.8" r="3.65"/>
<circle cx="651.4" cy="563.5" r="3.65"/>
<circle cx="666.2" cy="568.2" r="3.65"/>
<circle cx="651.4" cy="583.2" r="3.65"/>
<circle cx="651.4" cy="594.0" r="3.65"/>
<circle cx="636.7" cy="600.8" r="3.65"/>
<circle cx="666.2" cy="598.0" r="3.65"/>
<circle cx="621.9" cy="605.5" r="3.65"/>
<circle cx="636.7" cy="609.0" r="3.65"/>
<circle cx="666.2" cy="606.7" r="3.65"/>
<circle cx="681.2" cy="606.5" r="3.65"/>
<circle cx="651.4" cy="611.1" r="3.65"/>
<circle cx="658.7" cy="619.4" r="3.65"/>
<circle cx="643.9" cy="624.7" r="3.65"/>
<circle cx="771.8" cy="560.7" r="3.65"/>
<circle cx="771.8" cy="568.0" r="3.65"/>
<circle cx="757.0" cy="574.3" r="3.65"/>
<circle cx="771.8" cy="581.4" r="3.65"/>
<circle cx="771.8" cy="590.5" r="3.65"/>
<circle cx="771.8" cy="600.1" r="3.65"/>
<circle cx="757.0" cy="606.9" r="3.65"/>
<circle cx="771.8" cy="610.9" r="3.65"/>
<circle cx="786.5" cy="610.4" r="3.65"/>
<circle cx="757.0" cy="617.7" r="3.65"/>
<circle cx="786.5" cy="619.4" r="3.65"/>
<circle cx="779.0" cy="630.1" r="3.65"/>
<circle cx="764.3" cy="635.5" r="3.65"/>
<circle cx="884.6" cy="579.5" r="3.65"/>
<circle cx="899.3" cy="583.0" r="3.65"/>
<circle cx="884.6" cy="588.9" r="3.65"/>
<circle cx="899.3" cy="591.9" r="3.65"/>
<circle cx="884.6" cy="610.2" r="3.65"/>
<circle cx="899.3" cy="611.6" r="3.65"/>
<circle cx="892.1" cy="633.4" r="3.65"/>
</g>
<line x1="628.4" y1="587.9" x2="674.4" y2="587.9" stroke="#000" stroke-width="2.4" stroke-linecap="round"/>
<line x1="628.4" y1="599.4" x2="674.4" y2="599.4" stroke="#000" stroke-width="2.4" stroke-linecap="round"/>
<line x1="651.4" y1="587.9" x2="651.4" y2="599.4" stroke="#000" stroke-width="2.4" stroke-linecap="butt"/>
<line x1="748.8" y1="593.6" x2="794.8" y2="593.6" stroke="#000" stroke-width="2.4" stroke-linecap="round"/>
<line x1="748.8" y1="606.7" x2="794.8" y2="606.7" stroke="#000" stroke-width="2.4" stroke-linecap="round"/>
<line x1="771.8" y1="593.6" x2="771.8" y2="606.7" stroke="#000" stroke-width="2.4" stroke-linecap="butt"/>
<line x1="869.1" y1="592.1" x2="915.1" y2="592.1" stroke="#000" stroke-width="2.4" stroke-linecap="round"/>
<line x1="869.1" y1="606.7" x2="915.1" y2="606.7" stroke="#000" stroke-width="2.4" stroke-linecap="round"/>
<line x1="892.1" y1="592.1" x2="892.1" y2="606.7" stroke="#000" stroke-width="2.4" stroke-linecap="butt"/>
<line x1="559.4" y1="514.4" x2="559.4" y2="763.2" stroke="#000" stroke-width="2.4" stroke-linecap="butt"/>
<line x1="548.7" y1="762.0" x2="985.0" y2="762.0" stroke="#000" stroke-width="2.4" stroke-linecap="butt"/>
<text transform="translate(544.5 768.9) scale(0.985 1.035)" font-size="19" font-weight="bold" text-anchor="end" fill="#000" stroke="#000" stroke-width="0.25">0</text>
<line x1="548.7" y1="712.7" x2="559.4" y2="712.7" stroke="#000" stroke-width="2.4" stroke-linecap="butt"/>
<text transform="translate(544.5 719.6) scale(0.985 1.035)" font-size="19" font-weight="bold" text-anchor="end" fill="#000" stroke="#000" stroke-width="0.25">2</text>
<line x1="548.7" y1="663.4" x2="559.4" y2="663.4" stroke="#000" stroke-width="2.4" stroke-linecap="butt"/>
<text transform="translate(544.5 670.3) scale(0.985 1.035)" font-size="19" font-weight="bold" text-anchor="end" fill="#000" stroke="#000" stroke-width="0.25">4</text>
<line x1="548.7" y1="614.2" x2="559.4" y2="614.2" stroke="#000" stroke-width="2.4" stroke-linecap="butt"/>
<text transform="translate(544.5 621.1) scale(0.985 1.035)" font-size="19" font-weight="bold" text-anchor="end" fill="#000" stroke="#000" stroke-width="0.25">6</text>
<line x1="548.7" y1="564.9" x2="559.4" y2="564.9" stroke="#000" stroke-width="2.4" stroke-linecap="butt"/>
<text transform="translate(544.5 571.8) scale(0.985 1.035)" font-size="19" font-weight="bold" text-anchor="end" fill="#000" stroke="#000" stroke-width="0.25">8</text>
<line x1="548.7" y1="515.6" x2="559.4" y2="515.6" stroke="#000" stroke-width="2.4" stroke-linecap="butt"/>
<text transform="translate(544.5 522.5) scale(0.985 1.035)" font-size="19" font-weight="bold" text-anchor="end" fill="#000" stroke="#000" stroke-width="0.25">10</text>
<line x1="651.9" y1="762.0" x2="651.9" y2="771.5" stroke="#000" stroke-width="2.4" stroke-linecap="butt"/>
<text transform="translate(651.9 793.1) scale(0.985 1.035)" font-size="19" font-weight="bold" text-anchor="middle" fill="#000" stroke="#000" stroke-width="0.25">Saline</text>
<line x1="772.1" y1="762.0" x2="772.1" y2="771.5" stroke="#000" stroke-width="2.4" stroke-linecap="butt"/>
<text transform="translate(772.1 793.1) scale(0.985 1.035)" font-size="19" font-weight="bold" text-anchor="middle" fill="#000" stroke="#000" stroke-width="0.25">Goal-directed</text>
<line x1="892.0" y1="762.0" x2="892.0" y2="771.5" stroke="#000" stroke-width="2.4" stroke-linecap="butt"/>
<text transform="translate(892.0 793.1) scale(0.985 1.035)" font-size="19" font-weight="bold" text-anchor="middle" fill="#000" stroke="#000" stroke-width="0.25">Habitual</text>
<text transform="translate(508.3 640.0) rotate(-90) scale(0.985 1.035)" font-size="18" font-weight="bold" text-anchor="middle" fill="#000" stroke="#000" stroke-width="0.25">Rise Time (ms)</text>
<rect x="1133.3" y="514.8" width="94.7" height="90.2" fill="#ecedf3" stroke="#151515" stroke-width="1.6"/>
<rect x="1257.1" y="514.8" width="93.8" height="91.3" fill="#b5c2d8" stroke="#151515" stroke-width="1.6"/>
<rect x="1380.8" y="514.8" width="94.0" height="95.5" fill="#4c79b8" stroke="#151515" stroke-width="1.6"/>
<g fill="#eeeef0" stroke="#000" stroke-width="1.35">
<circle cx="1180.4" cy="555.3" r="3.65"/>
<circle cx="1180.4" cy="562.8" r="3.65"/>
<circle cx="1150.7" cy="577.2" r="3.65"/>
<circle cx="1165.5" cy="574.6" r="3.65"/>
<circle cx="1165.5" cy="582.4" r="3.65"/>
<circle cx="1180.4" cy="575.9" r="3.65"/>
<circle cx="1195.0" cy="570.9" r="3.65"/>
<circle cx="1209.8" cy="577.9" r="3.65"/>
<circle cx="1195.0" cy="584.7" r="3.65"/>
<circle cx="1180.4" cy="598.5" r="3.65"/>
<circle cx="1165.5" cy="600.8" r="3.65"/>
<circle cx="1195.0" cy="602.6" r="3.65"/>
<circle cx="1187.7" cy="618.2" r="3.65"/>
<circle cx="1172.8" cy="622.9" r="3.65"/>
<circle cx="1180.4" cy="656.9" r="3.65"/>
<circle cx="1180.4" cy="668.2" r="3.65"/>
<circle cx="1180.4" cy="676.5" r="3.65"/>
<circle cx="1180.4" cy="697.9" r="3.65"/>
<circle cx="1296.6" cy="557.5" r="3.65"/>
<circle cx="1311.4" cy="563.6" r="3.65"/>
<circle cx="1296.6" cy="569.1" r="3.65"/>
<circle cx="1296.6" cy="577.2" r="3.65"/>
<circle cx="1311.4" cy="577.2" r="3.65"/>
<circle cx="1296.6" cy="585.2" r="3.65"/>
<circle cx="1311.4" cy="585.0" r="3.65"/>
<circle cx="1296.6" cy="604.1" r="3.65"/>
<circle cx="1311.4" cy="604.6" r="3.65"/>
<circle cx="1311.4" cy="613.9" r="3.65"/>
<circle cx="1296.6" cy="618.9" r="3.65"/>
<circle cx="1281.7" cy="621.7" r="3.65"/>
<circle cx="1326.3" cy="619.7" r="3.65"/>
<circle cx="1311.4" cy="624.4" r="3.65"/>
<circle cx="1303.9" cy="677.0" r="3.65"/>
<circle cx="1303.9" cy="705.2" r="3.65"/>
<circle cx="1434.9" cy="562.3" r="3.65"/>
<circle cx="1420.1" cy="567.6" r="3.65"/>
<circle cx="1434.9" cy="571.1" r="3.65"/>
<circle cx="1427.4" cy="582.4" r="3.65"/>
<circle cx="1427.4" cy="599.8" r="3.65"/>
<circle cx="1427.4" cy="618.7" r="3.65"/>
<circle cx="1427.4" cy="627.5" r="3.65"/>
<circle cx="1427.4" cy="635.8" r="3.65"/>
<circle cx="1427.4" cy="644.8" r="3.65"/>
<circle cx="1427.4" cy="698.4" r="3.65"/>
</g>
<line x1="1157.2" y1="595.5" x2="1203.6" y2="595.5" stroke="#000" stroke-width="2.4" stroke-linecap="round"/>
<line x1="1157.2" y1="615.6" x2="1203.6" y2="615.6" stroke="#000" stroke-width="2.4" stroke-linecap="round"/>
<line x1="1180.4" y1="595.5" x2="1180.4" y2="615.6" stroke="#000" stroke-width="2.4" stroke-linecap="butt"/>
<line x1="1280.7" y1="596.5" x2="1327.1" y2="596.5" stroke="#000" stroke-width="2.4" stroke-linecap="round"/>
<line x1="1280.7" y1="616.4" x2="1327.1" y2="616.4" stroke="#000" stroke-width="2.4" stroke-linecap="round"/>
<line x1="1303.9" y1="596.5" x2="1303.9" y2="616.4" stroke="#000" stroke-width="2.4" stroke-linecap="butt"/>
<line x1="1404.2" y1="597.3" x2="1450.6" y2="597.3" stroke="#000" stroke-width="2.4" stroke-linecap="round"/>
<line x1="1404.2" y1="624.2" x2="1450.6" y2="624.2" stroke="#000" stroke-width="2.4" stroke-linecap="round"/>
<line x1="1427.4" y1="597.3" x2="1427.4" y2="624.2" stroke="#000" stroke-width="2.4" stroke-linecap="butt"/>
<text transform="translate(1180.6 534.0) scale(0.985 1.035)" font-size="16.5" font-weight="bold" text-anchor="middle" fill="#000" stroke="#000" stroke-width="0.25">19,15,10</text>
<text transform="translate(1306.8 535.2) scale(0.985 1.035)" font-size="16.5" font-weight="bold" text-anchor="middle" fill="#000" stroke="#000" stroke-width="0.25">16,14,10</text>
<text transform="translate(1426.9 535.2) scale(0.985 1.035)" font-size="16.5" font-weight="bold" text-anchor="middle" fill="#000" stroke="#000" stroke-width="0.25">11,9,6</text>
<line x1="1085.3" y1="514.8" x2="1085.3" y2="761.9" stroke="#000" stroke-width="2.4" stroke-linecap="butt"/>
<line x1="1074.6" y1="514.8" x2="1523.5" y2="514.8" stroke="#000" stroke-width="2.4" stroke-linecap="butt"/>
<line x1="1074.6" y1="760.7" x2="1523.5" y2="760.7" stroke="#000" stroke-width="2.4" stroke-linecap="butt"/>
<text transform="translate(1070.5 521.7) scale(0.985 1.035)" font-size="19" font-weight="bold" text-anchor="end" fill="#000" stroke="#000" stroke-width="0.25">0</text>
<line x1="1074.6" y1="564.0" x2="1085.3" y2="564.0" stroke="#000" stroke-width="2.4" stroke-linecap="butt"/>
<text transform="translate(1070.5 570.9) scale(0.985 1.035)" font-size="19" font-weight="bold" text-anchor="end" fill="#000" stroke="#000" stroke-width="0.25">-50</text>
<line x1="1074.6" y1="613.2" x2="1085.3" y2="613.2" stroke="#000" stroke-width="2.4" stroke-linecap="butt"/>
<text transform="translate(1070.5 620.1) scale(0.985 1.035)" font-size="19" font-weight="bold" text-anchor="end" fill="#000" stroke="#000" stroke-width="0.25">-100</text>
<line x1="1074.6" y1="662.3" x2="1085.3" y2="662.3" stroke="#000" stroke-width="2.4" stroke-linecap="butt"/>
<text transform="translate(1070.5 669.2) scale(0.985 1.035)" font-size="19" font-weight="bold" text-anchor="end" fill="#000" stroke="#000" stroke-width="0.25">-150</text>
<line x1="1074.6" y1="711.5" x2="1085.3" y2="711.5" stroke="#000" stroke-width="2.4" stroke-linecap="butt"/>
<text transform="translate(1070.5 718.4) scale(0.985 1.035)" font-size="19" font-weight="bold" text-anchor="end" fill="#000" stroke="#000" stroke-width="0.25">-200</text>
<text transform="translate(1070.5 767.6) scale(0.985 1.035)" font-size="19" font-weight="bold" text-anchor="end" fill="#000" stroke="#000" stroke-width="0.25">-250</text>
<line x1="1180.3" y1="760.7" x2="1180.3" y2="770.7" stroke="#000" stroke-width="2.4" stroke-linecap="butt"/>
<text transform="translate(1180.3 792.0) scale(0.985 1.035)" font-size="19" font-weight="bold" text-anchor="middle" fill="#000" stroke="#000" stroke-width="0.25">Saline</text>
<line x1="1303.9" y1="760.7" x2="1303.9" y2="770.7" stroke="#000" stroke-width="2.4" stroke-linecap="butt"/>
<text transform="translate(1303.9 792.0) scale(0.985 1.035)" font-size="19" font-weight="bold" text-anchor="middle" fill="#000" stroke="#000" stroke-width="0.25">Goal-directed</text>
<line x1="1427.4" y1="760.7" x2="1427.4" y2="770.7" stroke="#000" stroke-width="2.4" stroke-linecap="butt"/>
<text transform="translate(1427.4 792.0) scale(0.985 1.035)" font-size="19" font-weight="bold" text-anchor="middle" fill="#000" stroke="#000" stroke-width="0.25">Habitual</text>
<text transform="translate(1017.0 638.5) rotate(-90) scale(0.985 1.035)" font-size="18" font-weight="bold" text-anchor="middle" fill="#000" stroke="#000" stroke-width="0.25">Peak Amplitude (pA)</text>
</svg>
</body></html>
